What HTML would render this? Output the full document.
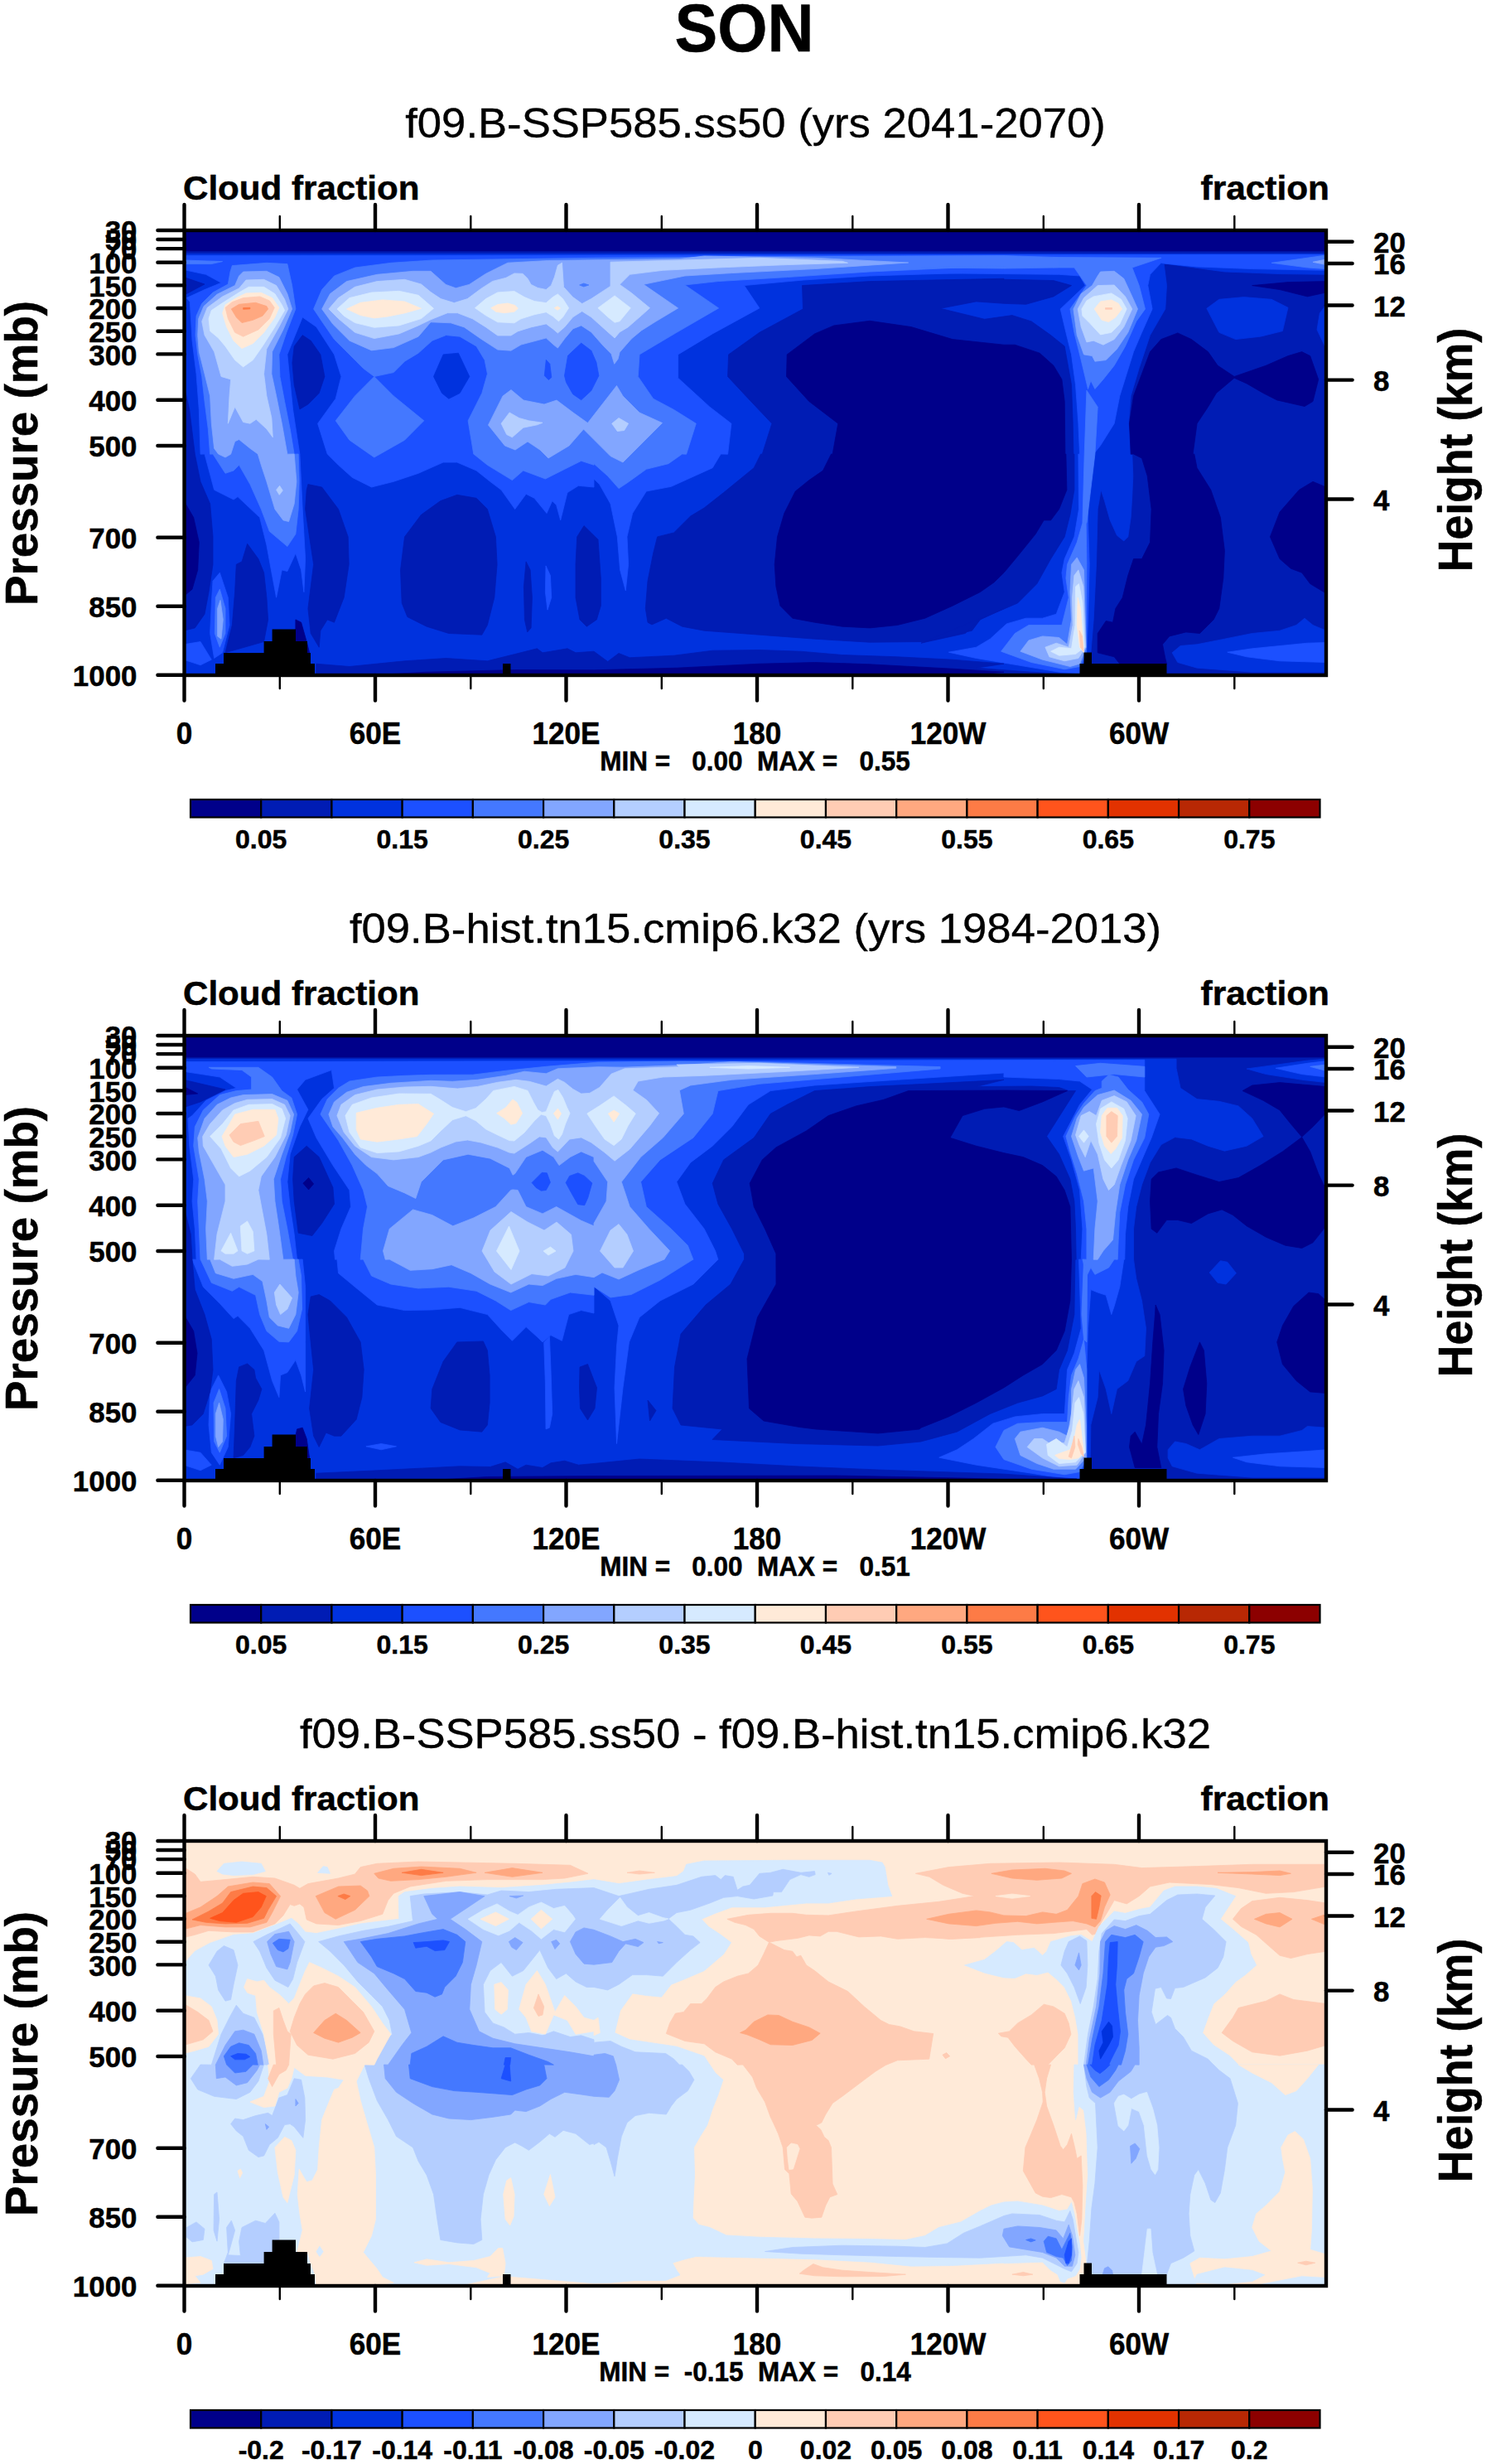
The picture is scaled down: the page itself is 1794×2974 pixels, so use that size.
<!DOCTYPE html>
<html><head><meta charset="utf-8"><title>SON</title>
<style>html,body{margin:0;padding:0;background:#fff}svg{display:block}text{font-family:"Liberation Sans",Arial,Helvetica,sans-serif;fill:#000}text{stroke:#000;stroke-width:0.35px}text[font-weight=bold]{stroke-width:0.5px}</style>
</head><body>
<svg width="1794" height="2974" viewBox="0 0 1794 2974">
<rect width="1794" height="2974" fill="#fff"/>
<text transform="translate(898.5 62.0) scale(0.946 1)" font-size="82" text-anchor="middle" font-weight="bold">SON</text>
<g transform="translate(0 0)">
<text transform="translate(912.0 166.0) scale(1.053 1)" font-size="50" text-anchor="middle">f09.B-SSP585.ss50 (yrs 2041-2070)</text>
<text transform="translate(221.0 241.0) scale(1.053 1)" font-size="40" text-anchor="start" font-weight="bold">Cloud fraction</text>
<text transform="translate(1605.0 241.0) scale(1.06 1)" font-size="40" text-anchor="end" font-weight="bold">fraction</text>
<clipPath id="clip0"><rect x="222.5" y="278.0" width="1378.5" height="537.0"/></clipPath>
<g clip-path="url(#clip0)">
<rect x="222.5" y="278.0" width="1378.5" height="537.0" fill="#001cb4"/>
<path d="M222.0 306.3L1601.0 306.3L1601.0 331.3L1545.0 330.6L1478.4 328.0L1405.1 318.0L1408.5 344.6L1406.8 372.9L1388.5 404.6L1375.2 444.6L1365.2 477.9L1362.5 511.2L1366.8 548.2L1367.8 574.6L1366.8 598.0L1365.2 624.6L1361.8 647.9L1356.8 652.9L1348.5 646.3L1340.2 627.9L1333.5 604.6L1329.2 591.3L1325.2 614.6L1323.5 681.2L1320.2 747.9L1316.9 787.8L1316.9 814.5L222.0 814.5Z" fill="#0032de" stroke="#0032de" stroke-width="0.8" stroke-linejoin="round"/>
<path d="M1456.8 372.3L1471.8 361.3L1501.7 358.6L1535.1 361.3L1555.0 371.3L1548.4 399.6L1521.7 406.2L1491.7 409.6L1471.8 401.3Z" fill="#0032de" stroke="#0032de" stroke-width="0.8" stroke-linejoin="round"/>
<path d="M1601.0 367.9L1593.3 377.9L1590.0 397.9L1601.0 421.2Z" fill="#0032de" stroke="#0032de" stroke-width="0.8" stroke-linejoin="round"/>
<path d="M1415.1 787.8L1425.1 779.5L1445.1 777.8L1478.4 771.2L1511.7 764.5L1545.0 761.2L1565.0 754.5L1575.0 746.2L1585.0 754.5L1601.0 761.2L1601.0 811.2L1511.7 811.2L1445.1 806.2L1421.8 799.5Z" fill="#0032de" stroke="#0032de" stroke-width="0.8" stroke-linejoin="round"/>
<path d="M222.0 308.6L1601.0 307.3L1601.0 326.3L1511.7 324.6L1445.1 322.0L1405.1 318.0L1401.8 317.3L1388.5 331.3L1385.8 344.6L1391.1 372.9L1378.5 401.3L1368.5 424.6L1360.2 451.2L1351.8 477.9L1345.2 511.2L1328.5 537.8L1320.2 548.2L1313.5 548.0L1313.5 631.3L1315.2 681.2L1313.5 747.9L1311.9 787.8L1303.5 812.8L1278.6 811.2L1228.6 802.8L1178.6 794.5L1145.3 787.2L1178.6 781.2L1195.3 771.2L1215.3 752.9L1238.6 746.2L1258.6 746.2L1275.2 741.2L1285.2 714.6L1281.9 691.2L1285.2 674.6L1296.9 647.9L1302.5 614.6L1301.9 548.0L1303.5 548.2L1301.9 511.2L1298.5 464.5L1293.5 427.9L1286.9 401.3L1280.2 372.9L1310.2 344.6L1303.5 333.0L1278.6 331.3L1211.9 330.6L1112.0 329.6L1212.0 328.0L1050.1 333.0L970.2 338.0L898.5 344.6L916.9 371.9L860.2 402.9L818.6 427.9L818.6 456.2L856.9 491.2L882.9 511.2L878.6 548.2L870.2 548.0L860.2 564.7L810.3 587.3L780.3 593.0L763.6 619.6L757.0 647.9L758.6 681.2L755.3 712.9L748.6 687.9L745.3 647.9L737.0 608.0L723.7 584.6L717.0 578.0L717.0 588.0L698.3 586.3L685.0 594.6L676.7 627.9L671.7 609.6L666.7 604.6L660.0 619.6L645.1 601.3L635.1 596.3L621.7 614.6L605.1 591.3L591.8 581.3L575.1 568.0L551.8 558.0L535.1 558.0L505.1 571.3L475.2 581.3L448.5 588.0L425.2 576.3L408.5 561.3L395.2 548.0L383.6 511.2L405.2 481.2L411.9 454.5L403.5 427.9L381.9 394.6L365.2 382.9L346.9 427.9L353.6 494.5L361.9 548.2L361.9 548.0L365.2 614.6L368.6 674.6L366.9 714.6L363.6 687.9L356.9 667.9L346.9 689.6L340.3 687.9L333.6 721.2L328.6 694.6L321.9 657.9L313.6 624.6L287.0 599.6L282.0 603.0L258.6 591.3L247.0 548.0L242.0 548.2L240.3 494.5L237.0 451.2L232.0 411.2L229.3 364.6L225.3 359.6L247.0 349.6L267.0 341.3L248.6 331.3L225.3 326.3L222.0 326.3Z" fill="#1c50ff" stroke="#1c50ff" stroke-width="0.8" stroke-linejoin="round"/>
<path d="M1481.8 787.2L1511.7 782.8L1545.0 779.5L1578.4 776.2L1601.0 775.5L1601.0 799.5L1545.0 797.8L1505.1 792.8Z" fill="#1c50ff" stroke="#1c50ff" stroke-width="0.8" stroke-linejoin="round"/>
<path d="M257.0 701.2L265.3 691.2L275.3 721.2L277.0 754.5L268.6 787.8L258.6 794.5L253.6 764.5L255.3 727.9Z" fill="#1c50ff" stroke="#1c50ff" stroke-width="0.8" stroke-linejoin="round"/>
<path d="M659.0 682.9L664.4 694.6L665.7 721.2L661.0 736.2L658.4 714.6Z" fill="#1c50ff" stroke="#1c50ff" stroke-width="0.8" stroke-linejoin="round"/>
<path d="M222.0 777.8L242.0 774.5L255.3 796.2L242.0 802.8L222.0 796.2Z" fill="#1c50ff" stroke="#1c50ff" stroke-width="0.8" stroke-linejoin="round"/>
<path d="M280.3 320.6L321.9 317.3L346.9 318.6L352.6 344.6L356.9 372.9L345.9 401.3L336.9 427.9L337.9 454.5L343.6 484.5L350.2 517.8L355.2 548.2L360.2 548.0L361.2 581.3L360.2 614.6L356.9 644.6L346.9 659.6L325.3 641.3L315.3 614.6L301.9 584.6L288.6 561.3L282.0 568.0L272.0 571.3L257.0 548.0L253.6 548.2L251.3 517.8L247.0 484.5L243.7 454.5L238.7 427.9L236.0 404.6L237.0 381.3L243.7 366.3L257.0 353.0L275.3 343.0L278.0 328.0Z" fill="#4478ff" stroke="#4478ff" stroke-width="0.8" stroke-linejoin="round"/>
<path d="M378.6 372.9L388.6 349.6L403.5 333.0L428.5 323.0L471.8 317.3L521.8 314.0L717.0 311.3L950.2 309.6L1212.0 308.6L1278.6 310.6L1278.6 323.0L1211.9 324.0L1112.0 323.0L1212.0 320.6L1050.1 328.0L950.2 334.6L866.9 339.6L826.9 344.0L867.6 371.9L816.9 401.3L772.0 427.9L770.3 454.5L788.6 481.2L813.6 494.5L840.3 511.2L831.9 537.8L828.6 548.2L823.6 548.0L806.9 559.7L780.3 566.3L757.0 583.0L747.0 589.6L733.7 574.6L717.0 559.7L717.0 561.3L701.7 556.3L681.7 566.3L658.4 578.0L631.7 568.0L618.4 579.6L588.4 561.3L571.8 548.0L571.8 548.2L565.1 507.8L581.8 474.5L588.4 451.2L585.1 434.6L575.1 417.9L555.1 406.2L538.5 404.6L521.8 411.2L505.1 426.2L488.5 436.2L475.2 449.6L451.8 454.5L438.5 444.6L421.9 427.9L403.5 409.6L388.6 387.9Z" fill="#4478ff" stroke="#4478ff" stroke-width="0.8" stroke-linejoin="round"/>
<path d="M405.2 507.8L428.5 477.9L451.8 454.5L475.2 477.9L511.8 507.8L488.5 531.2L451.8 552.0L421.9 531.2Z" fill="#4478ff" stroke="#4478ff" stroke-width="0.8" stroke-linejoin="round"/>
<path d="M1278.6 310.6L1401.8 311.3L1366.8 323.0L1375.2 344.6L1382.5 372.9L1371.8 387.9L1358.5 417.9L1345.2 441.2L1331.9 457.9L1321.9 469.5L1316.9 459.5L1313.5 469.5L1305.2 434.6L1296.9 401.3L1291.9 372.9L1311.9 344.6L1296.9 323.0L1278.6 323.0Z" fill="#4478ff" stroke="#4478ff" stroke-width="0.8" stroke-linejoin="round"/>
<path d="M1306.9 631.3L1300.2 654.6L1288.5 681.2L1286.9 697.9L1290.2 721.2L1281.9 754.5L1265.2 754.5L1241.9 754.5L1225.3 764.5L1208.6 786.2L1245.2 799.5L1285.2 807.8L1303.5 804.5L1311.2 787.8L1311.9 681.2L1311.2 631.3Z" fill="#4478ff" stroke="#4478ff" stroke-width="0.8" stroke-linejoin="round"/>
<path d="M1311.9 471.2L1325.2 491.2L1321.9 548.2L1311.9 631.3L1306.9 631.3L1309.2 548.0Z" fill="#4478ff" stroke="#4478ff" stroke-width="0.8" stroke-linejoin="round"/>
<path d="M1535.1 317.3L1601.0 308.0L1601.0 324.6L1578.4 323.0Z" fill="#4478ff" stroke="#4478ff" stroke-width="0.8" stroke-linejoin="round"/>
<path d="M260.3 721.2L265.3 711.2L272.0 734.5L272.0 764.5L265.3 781.2L259.3 764.5Z" fill="#4478ff" stroke="#4478ff" stroke-width="0.8" stroke-linejoin="round"/>
<path d="M222.0 314.0L268.6 315.6L255.3 318.6L222.0 318.6Z" fill="#4478ff" stroke="#4478ff" stroke-width="0.8" stroke-linejoin="round"/>
<path d="M293.6 328.0L321.9 327.3L336.9 334.6L346.9 354.6L352.6 372.9L341.9 397.9L328.6 424.6L327.9 451.2L333.6 477.9L340.3 511.2L346.9 548.2L355.2 548.0L357.9 581.3L355.2 608.0L348.6 629.6L341.9 627.9L331.9 614.6L321.9 581.3L315.3 561.3L311.3 548.0L301.9 541.2L288.6 530.5L283.6 532.8L278.6 548.2L272.0 552.0L263.6 548.0L258.6 541.2L255.3 511.2L253.6 477.9L247.0 451.2L240.3 424.6L238.7 404.6L239.7 384.6L246.0 369.6L262.0 355.3L283.6 344.6L288.6 333.0Z" fill="#82a6ff" stroke="#82a6ff" stroke-width="0.8" stroke-linejoin="round"/>
<path d="M388.6 372.9L398.5 354.6L418.5 339.6L455.2 331.3L498.5 327.3L520.0 327.3L538.2 343.4L550.3 347.8L566.4 343.4L586.6 330.3L612.9 317.2L661.3 314.5L737.0 313.5L820.0 312.5L850.2 309.0L983.5 311.3L1096.7 317.0L983.5 324.6L883.6 329.6L826.9 333.0L777.0 343.3L818.6 371.9L790.5 388.8L774.4 398.9L762.3 409.0L748.1 425.2L746.1 433.3L741.7 439.3L738.0 427.2L728.0 417.1L713.8 400.9L701.7 392.9L691.6 396.9L681.5 409.0L673.4 420.1L669.4 417.1L659.3 408.0L629.0 416.1L616.9 423.2L600.8 422.1L580.6 409.0L560.4 394.9L544.2 389.8L520.0 388.8L505.1 406.2L475.2 419.6L448.5 422.9L421.9 411.2L401.9 391.3Z" fill="#82a6ff" stroke="#82a6ff" stroke-width="0.8" stroke-linejoin="round"/>
<path d="M589.5 513.0L607.0 478.0L617.0 470.5L632.0 483.0L657.0 488.0L672.0 483.0L692.0 498.0L709.5 510.5L727.0 488.0L744.5 465.5L752.0 478.0L772.0 498.0L799.5 510.5L777.0 533.0L752.0 558.0L737.0 550.5L714.5 528.0L704.5 518.0L687.0 538.0L662.0 553.0L652.0 543.0L637.0 533.0L622.0 543.0L609.5 538.0Z" fill="#82a6ff" stroke="#82a6ff" stroke-width="0.8" stroke-linejoin="round"/>
<path d="M1328.5 328.0L1345.2 327.3L1356.8 336.3L1366.8 357.9L1373.5 372.9L1361.8 401.3L1348.5 421.2L1335.2 434.6L1321.9 436.2L1318.5 429.6L1308.5 427.9L1300.2 404.6L1295.9 372.9L1305.2 354.6L1318.5 344.6L1325.2 333.0Z" fill="#82a6ff" stroke="#82a6ff" stroke-width="0.8" stroke-linejoin="round"/>
<path d="M1293.5 681.2L1300.2 672.9L1308.5 687.9L1311.2 781.2L1303.5 801.2L1291.9 804.5L1271.9 799.5L1258.6 796.2L1231.9 786.2L1241.9 772.9L1258.6 767.9L1278.6 769.5L1288.5 777.8L1293.5 747.9L1291.9 714.6Z" fill="#82a6ff" stroke="#82a6ff" stroke-width="0.8" stroke-linejoin="round"/>
<path d="M262.6 734.5L266.0 724.5L269.3 747.9L267.0 771.2L262.6 767.9Z" fill="#82a6ff" stroke="#82a6ff" stroke-width="0.8" stroke-linejoin="round"/>
<path d="M1585.0 316.3L1601.0 313.0L1601.0 319.6Z" fill="#82a6ff" stroke="#82a6ff" stroke-width="0.8" stroke-linejoin="round"/>
<path d="M297.0 338.0L318.6 337.3L333.6 344.6L343.6 361.3L347.9 372.9L336.9 394.6L321.9 421.2L318.6 451.2L321.9 477.9L327.9 504.5L329.3 527.8L321.9 517.8L309.3 506.2L301.9 511.2L293.6 509.5L283.6 491.2L275.3 511.2L277.0 477.9L278.6 457.9L267.0 454.5L258.6 424.6L247.0 404.6L243.7 387.9L250.3 371.3L268.6 357.9L288.6 348.0Z" fill="#b4ceff" stroke="#b4ceff" stroke-width="0.8" stroke-linejoin="round"/>
<path d="M333.6 591.3L337.6 586.3L341.3 592.0L337.3 597.3Z" fill="#b4ceff" stroke="#b4ceff" stroke-width="0.8" stroke-linejoin="round"/>
<path d="M396.9 372.9L408.5 359.6L428.5 346.3L455.2 339.6L488.5 337.3L508.5 343.0L520.0 352.5L532.1 360.6L548.3 365.6L564.4 360.6L580.6 348.5L594.7 339.4L610.9 335.3L620.9 329.9L631.0 330.3L637.1 336.3L641.1 343.4L649.2 347.4L659.3 349.5L665.4 344.4L669.4 334.3L673.4 320.2L678.5 317.2L680.5 346.4L691.6 358.6L702.7 366.6L713.8 360.6L737.0 345.4L737.0 316.2L820.0 314.1L916.9 311.3L1016.8 315.3L1023.5 317.3L950.2 319.6L866.9 323.0L800.3 326.3L760.3 331.3L748.1 343.4L762.3 353.5L784.5 371.7L774.4 380.8L758.2 394.9L748.1 400.9L742.1 408.0L734.0 400.9L713.8 382.8L702.7 375.7L691.6 382.8L681.5 394.9L673.4 402.0L667.4 396.9L659.3 390.9L641.1 394.9L625.0 399.9L616.9 405.0L600.8 405.0L586.6 394.9L570.5 384.8L552.3 377.7L540.2 377.7L520.0 385.8L505.1 392.9L481.8 402.9L451.8 408.6L428.5 401.3L408.5 384.6Z" fill="#b4ceff" stroke="#b4ceff" stroke-width="0.8" stroke-linejoin="round"/>
<path d="M605.1 511.2L615.1 497.9L626.7 504.5L638.4 507.8L655.0 510.2L648.4 512.8L631.7 516.2L618.4 527.8L611.7 524.5Z" fill="#b4ceff" stroke="#b4ceff" stroke-width="0.8" stroke-linejoin="round"/>
<path d="M738.7 511.2L747.0 504.5L758.6 511.2L753.6 519.5L745.3 520.5Z" fill="#b4ceff" stroke="#b4ceff" stroke-width="0.8" stroke-linejoin="round"/>
<path d="M1325.2 344.6L1345.2 344.0L1358.5 357.9L1366.8 372.9L1356.8 394.6L1345.2 409.6L1331.9 416.2L1320.2 411.2L1311.9 412.9L1305.2 394.6L1301.2 372.9L1308.5 359.6Z" fill="#b4ceff" stroke="#b4ceff" stroke-width="0.8" stroke-linejoin="round"/>
<path d="M1296.9 694.6L1301.9 687.9L1307.9 707.9L1310.5 781.2L1301.9 794.5L1285.2 797.8L1266.9 792.8L1261.9 781.2L1275.2 776.2L1290.2 781.2L1295.2 754.5L1294.5 721.2Z" fill="#b4ceff" stroke="#b4ceff" stroke-width="0.8" stroke-linejoin="round"/>
<path d="M300.3 346.3L318.6 346.3L331.9 354.6L340.3 367.9L343.6 374.6L331.9 394.6L316.9 417.9L305.3 434.6L293.6 442.9L283.6 434.6L272.0 417.9L263.6 407.9L253.6 399.6L252.0 384.6L255.3 374.6L270.3 364.6L288.6 353.0Z" fill="#d6eaff" stroke="#d6eaff" stroke-width="0.8" stroke-linejoin="round"/>
<path d="M406.9 372.9L421.9 359.6L448.5 353.0L481.8 351.3L505.1 356.3L523.5 372.3L508.5 384.6L481.8 392.9L451.8 395.3L428.5 389.6L415.2 381.3Z" fill="#d6eaff" stroke="#d6eaff" stroke-width="0.8" stroke-linejoin="round"/>
<path d="M573.5 371.7L586.6 360.6L600.8 352.9L620.9 351.5L633.1 358.6L645.2 363.6L659.3 365.6L667.4 358.6L673.4 354.9L679.5 360.6L686.6 371.7L679.5 382.8L674.5 387.8L667.4 381.8L659.3 376.7L645.2 379.7L629.0 384.8L620.9 389.8L600.8 388.8L586.6 380.8Z" fill="#d6eaff" stroke="#d6eaff" stroke-width="0.8" stroke-linejoin="round"/>
<path d="M721.9 371.7L742.1 356.9L761.3 371.7L748.1 387.8L742.1 389.2L734.0 382.8Z" fill="#d6eaff" stroke="#d6eaff" stroke-width="0.8" stroke-linejoin="round"/>
<path d="M1320.2 357.9L1341.8 353.9L1353.5 361.3L1360.2 372.9L1351.8 391.3L1341.8 401.3L1328.5 403.9L1315.2 389.6L1306.9 381.3L1305.9 372.9L1311.9 362.9Z" fill="#d6eaff" stroke="#d6eaff" stroke-width="0.8" stroke-linejoin="round"/>
<path d="M1298.5 707.9L1302.5 704.6L1306.9 727.9L1309.2 781.2L1298.5 789.5L1278.6 791.2L1268.6 786.2L1278.6 781.2L1293.5 782.8L1297.9 754.5Z" fill="#d6eaff" stroke="#d6eaff" stroke-width="0.8" stroke-linejoin="round"/>
<path d="M297.0 353.9L315.3 353.3L328.6 359.6L336.9 371.3L331.9 382.9L318.6 401.3L305.3 414.6L292.0 420.6L282.0 411.2L273.6 394.6L268.6 377.9L272.0 367.9L285.3 359.6Z" fill="#ffead8" stroke="#ffead8" stroke-width="0.8" stroke-linejoin="round"/>
<path d="M418.5 372.9L435.2 365.3L461.8 361.9L488.5 363.9L508.5 372.3L488.5 377.9L468.5 381.9L451.8 383.9L435.2 380.6Z" fill="#ffead8" stroke="#ffead8" stroke-width="0.8" stroke-linejoin="round"/>
<path d="M592.7 371.7L600.8 367.6L612.9 366.0L622.0 368.6L625.4 372.3L620.9 376.3L608.8 377.7L598.7 376.3Z" fill="#ffead8" stroke="#ffead8" stroke-width="0.8" stroke-linejoin="round"/>
<path d="M669.4 371.7L673.0 369.7L676.5 372.1L673.0 374.3Z" fill="#ffead8" stroke="#ffead8" stroke-width="0.8" stroke-linejoin="round"/>
<path d="M1328.5 363.9L1341.8 361.9L1350.2 366.3L1354.5 372.9L1346.8 382.9L1338.5 388.6L1330.2 386.3L1321.2 372.9Z" fill="#ffead8" stroke="#ffead8" stroke-width="0.8" stroke-linejoin="round"/>
<path d="M1301.2 721.2L1304.5 734.5L1308.5 787.8L1303.5 781.2L1300.2 754.5Z" fill="#ffead8" stroke="#ffead8" stroke-width="0.8" stroke-linejoin="round"/>
<path d="M293.6 359.6L313.6 357.9L325.3 362.9L331.3 371.3L325.3 384.6L311.9 397.9L293.6 406.2L283.6 401.3L275.3 384.6L272.0 371.3L280.3 364.6Z" fill="#ffccb4" stroke="#ffccb4" stroke-width="0.8" stroke-linejoin="round"/>
<path d="M1303.2 761.2L1306.5 767.9L1307.9 786.2L1304.5 781.2Z" fill="#ffccb4" stroke="#ffccb4" stroke-width="0.8" stroke-linejoin="round"/>
<path d="M288.6 367.3L308.6 365.3L321.9 369.6L323.6 372.9L316.9 381.3L305.3 386.3L292.0 389.6L285.3 382.9L279.3 372.9Z" fill="#ffa880" stroke="#ffa880" stroke-width="0.8" stroke-linejoin="round"/>
<path d="M293.6 371.6L301.9 371.3L301.9 372.9L293.6 373.3Z" fill="#fd7b46" stroke="#fd7b46" stroke-width="0.8" stroke-linejoin="round"/>
<path d="M1334.5 371.6L1342.5 371.6L1342.5 373.3L1334.5 373.3Z" fill="#ffccb4" stroke="#ffccb4" stroke-width="0.8" stroke-linejoin="round"/>
<path d="M699.7 344.0L704.7 342.0L710.8 344.0L704.7 346.0Z" fill="#4478ff" stroke="#4478ff" stroke-width="0.8" stroke-linejoin="round"/>
<path d="M681.5 453.4L685.6 429.2L701.7 414.1L713.8 423.2L719.9 437.3L722.9 453.4L713.8 471.6L701.7 482.7L691.6 475.7L683.5 461.5Z" fill="#1c50ff" stroke="#1c50ff" stroke-width="0.8" stroke-linejoin="round"/>
<path d="M659.3 434.3L663.8 439.3L665.8 455.5L662.3 458.5L657.3 453.4Z" fill="#1c50ff" stroke="#1c50ff" stroke-width="0.8" stroke-linejoin="round"/>
<path d="M523.5 454.5L535.1 427.9L553.4 426.2L566.8 454.5L555.1 474.5L541.8 481.2L533.5 474.5Z" fill="#0032de" stroke="#0032de" stroke-width="0.8" stroke-linejoin="round"/>
<path d="M365.2 404.6L375.2 411.2L386.9 427.9L391.9 454.5L385.2 474.5L371.9 487.9L361.9 493.9L355.2 464.5L352.9 437.9L355.2 417.9Z" fill="#001cb4" stroke="#001cb4" stroke-width="0.8" stroke-linejoin="round"/>
<path d="M222.0 334.6L247.0 343.0L222.0 356.3Z" fill="#001cb4" stroke="#001cb4" stroke-width="0.8" stroke-linejoin="round"/>
<path d="M222.0 464.5L228.7 494.5L235.3 548.2L242.0 581.3L253.6 608.0L257.0 647.9L257.0 681.2L252.0 714.6L247.0 741.2L235.3 757.9L222.0 761.2Z" fill="#001cb4" stroke="#001cb4" stroke-width="0.8" stroke-linejoin="round"/>
<path d="M285.3 681.2L292.0 677.9L298.6 656.3L311.9 674.6L318.6 691.2L321.9 721.2L323.6 747.9L318.6 774.5L272.0 787.8L280.3 754.5L283.6 714.6Z" fill="#001cb4" stroke="#001cb4" stroke-width="0.8" stroke-linejoin="round"/>
<path d="M371.9 584.6L388.6 588.0L408.5 614.6L420.2 647.9L421.2 681.2L415.2 721.2L403.5 751.2L395.2 747.9L386.9 761.2L385.2 781.2L375.2 764.5L371.9 734.5L378.6 681.2L373.6 647.9L368.6 614.6L370.2 591.3Z" fill="#001cb4" stroke="#001cb4" stroke-width="0.8" stroke-linejoin="round"/>
<path d="M488.5 647.9L508.5 621.3L531.8 604.6L551.8 597.3L575.1 601.3L588.4 614.6L598.4 647.9L600.1 681.2L596.8 721.2L588.4 754.5L581.8 766.2L541.8 764.5L515.1 756.2L491.8 744.5L485.2 727.9L483.5 687.9Z" fill="#001cb4" stroke="#001cb4" stroke-width="0.8" stroke-linejoin="round"/>
<path d="M705.0 634.6L722.0 651.3L725.3 697.9L725.3 731.2L720.3 747.9L708.3 756.2L700.0 747.9L695.0 721.2L695.0 681.2L696.7 647.9Z" fill="#001cb4" stroke="#001cb4" stroke-width="0.8" stroke-linejoin="round"/>
<path d="M635.1 677.9L640.1 687.9L642.4 721.2L641.1 757.9L636.7 762.9L633.4 747.9L632.4 707.9Z" fill="#001cb4" stroke="#001cb4" stroke-width="0.8" stroke-linejoin="round"/>
<path d="M968.5 344.6L1050.1 339.6L1212.0 336.3L1211.9 337.3L1271.9 338.6L1293.5 344.6L1271.9 357.9L1238.6 367.3L1211.9 366.3L1178.6 363.9L1135.3 372.3L1188.6 385.3L1221.9 380.6L1245.2 387.9L1268.6 404.6L1285.2 417.9L1293.5 464.5L1295.2 511.2L1295.9 548.2L1296.9 548.0L1296.9 591.3L1291.9 621.3L1285.2 647.9L1268.6 674.6L1251.9 704.6L1228.6 727.9L1205.3 737.9L1182.0 747.9L1165.3 764.5L1112.0 776.2L1212.0 734.5L1183.4 747.9L1173.4 761.2L1116.7 774.5L1050.1 775.2L983.5 771.2L916.9 766.2L850.2 761.2L823.6 756.2L804.3 746.2L787.0 753.9L782.0 751.2L779.3 734.5L782.0 701.2L788.6 667.9L793.6 647.9L813.6 642.9L833.6 623.0L850.2 613.0L873.6 594.6L910.2 564.7L918.5 548.0L920.2 548.2L931.9 511.2L903.5 481.2L878.6 454.5L879.6 427.9L916.9 401.3L969.5 372.9Z" fill="#001cb4" stroke="#001cb4" stroke-width="0.8" stroke-linejoin="round"/>
<path d="M381.9 801.2L421.9 804.5L488.5 797.8L538.5 794.5L588.4 797.8L608.4 792.8L621.7 789.5L648.4 782.8L655.0 787.8L665.0 786.2L685.0 782.8L695.0 787.8L717.0 786.2L733.7 798.5L747.0 788.5L760.3 793.8L813.6 791.2L860.2 785.2L916.9 784.5L966.8 786.2L1016.8 790.5L1083.4 792.8L1150.0 796.2L1212.0 801.2L1178.6 806.2L1245.2 811.2L1303.5 814.5L381.9 814.5Z" fill="#001cb4" stroke="#001cb4" stroke-width="0.8" stroke-linejoin="round"/>
<path d="M455.2 814.5L515.1 811.2L621.7 808.5L717.0 808.8L816.9 806.2L916.9 801.2L983.5 799.5L1050.1 801.8L1150.0 807.2L1212.0 811.2L1178.6 814.5Z" fill="#00008a" stroke="#00008a" stroke-width="0.8" stroke-linejoin="round"/>
<path d="M1285.9 548.2L1285.2 484.5L1281.9 457.9L1271.9 441.2L1255.2 426.2L1225.3 416.2L1212.0 416.2L1150.0 409.6L1100.1 394.6L1050.1 387.3L1006.8 392.9L983.5 402.9L950.2 427.9L949.5 454.5L976.8 484.5L1011.8 511.2L1005.1 548.2L1003.5 548.0L993.5 568.0L976.8 579.6L960.2 593.0L946.8 619.6L938.5 647.9L935.2 681.2L936.9 707.9L941.9 731.2L956.8 746.2L983.5 751.2L1016.8 756.2L1050.1 757.9L1083.4 754.5L1116.7 746.2L1150.0 731.2L1183.4 714.6L1200.0 702.9L1212.0 691.2L1228.6 671.3L1250.2 644.6L1260.2 627.9L1268.6 627.9L1278.6 614.6L1287.9 591.3L1286.9 548.0Z" fill="#00008a" stroke="#00008a" stroke-width="0.8" stroke-linejoin="round"/>
<path d="M1365.2 548.2L1363.5 511.2L1368.5 477.9L1378.5 451.2L1388.5 424.6L1401.8 409.6L1421.8 401.9L1438.4 409.6L1458.4 424.6L1470.1 441.2L1490.1 454.5L1528.4 441.2L1555.0 429.6L1571.7 424.6L1581.7 429.6L1591.7 457.9L1585.0 484.5L1575.0 490.5L1541.7 482.9L1525.1 474.5L1505.1 462.9L1490.1 456.2L1468.4 474.5L1458.4 491.2L1445.1 511.2L1440.1 548.2L1441.8 548.0L1445.1 564.7L1461.8 591.3L1473.4 624.6L1478.4 664.6L1476.8 697.9L1471.8 734.5L1465.1 747.9L1448.4 764.5L1431.8 762.9L1411.8 767.9L1403.5 777.8L1406.8 794.5L1408.5 801.2L1351.8 801.2L1345.2 792.8L1325.2 787.8L1325.2 764.5L1335.2 749.5L1343.5 751.2L1346.8 734.5L1355.2 721.2L1361.8 694.6L1368.5 674.6L1378.5 674.6L1388.5 654.6L1390.1 614.6L1385.2 574.6L1378.5 553.0L1368.5 548.0Z" fill="#00008a" stroke="#00008a" stroke-width="0.8" stroke-linejoin="round"/>
<path d="M1601.0 588.0L1585.0 581.3L1568.4 591.3L1545.0 618.0L1533.4 647.9L1545.0 674.6L1558.4 686.2L1571.7 691.2L1581.7 704.6L1601.0 716.2Z" fill="#00008a" stroke="#00008a" stroke-width="0.8" stroke-linejoin="round"/>
<path d="M1511.7 344.6L1555.0 340.6L1601.0 339.6L1601.0 353.0L1578.4 357.9L1545.0 349.6Z" fill="#00008a" stroke="#00008a" stroke-width="0.8" stroke-linejoin="round"/>
<path d="M222.0 604.6L233.7 624.6L240.3 654.6L238.7 687.9L232.0 711.2L222.0 719.6Z" fill="#00008a" stroke="#00008a" stroke-width="0.8" stroke-linejoin="round"/>
<path d="M356.9 747.9L363.6 751.2L370.2 774.5L373.6 787.8L356.9 787.8Z" fill="#00008a" stroke="#00008a" stroke-width="0.8" stroke-linejoin="round"/>
<path d="M222.0 278.0L1601.0 278.0L1601.0 303.0L222.0 303.0Z" fill="#00008a" stroke="#00008a" stroke-width="0.8" stroke-linejoin="round"/>
</g>
<rect x="260" y="801" width="120.0" height="15.0" fill="#000"/><rect x="270" y="788" width="105.0" height="14.0" fill="#000"/><rect x="318.6" y="774" width="52.4" height="15.0" fill="#000"/><rect x="328.6" y="759.5" width="28.4" height="15.5" fill="#000"/><rect x="607" y="801" width="9.5" height="15.0" fill="#000"/><rect x="1303.5" y="801" width="105.0" height="15.0" fill="#000"/><rect x="1308.5" y="787.5" width="9.5" height="14.5" fill="#000"/>
<rect x="222.5" y="278.0" width="1378.5" height="537.0" fill="none" stroke="#000" stroke-width="4.4"/>
<text transform="translate(165.5 291.2) scale(0.97 1)" font-size="36" text-anchor="end" font-weight="bold">30</text>
<text transform="translate(165.5 302.2) scale(0.97 1)" font-size="36" text-anchor="end" font-weight="bold">50</text>
<text transform="translate(165.5 313.3) scale(0.97 1)" font-size="36" text-anchor="end" font-weight="bold">70</text>
<text transform="translate(165.5 329.9) scale(0.97 1)" font-size="36" text-anchor="end" font-weight="bold">100</text>
<text transform="translate(165.5 357.6) scale(0.97 1)" font-size="36" text-anchor="end" font-weight="bold">150</text>
<text transform="translate(165.5 385.2) scale(0.97 1)" font-size="36" text-anchor="end" font-weight="bold">200</text>
<text transform="translate(165.5 412.9) scale(0.97 1)" font-size="36" text-anchor="end" font-weight="bold">250</text>
<text transform="translate(165.5 440.6) scale(0.97 1)" font-size="36" text-anchor="end" font-weight="bold">300</text>
<text transform="translate(165.5 495.9) scale(0.97 1)" font-size="36" text-anchor="end" font-weight="bold">400</text>
<text transform="translate(165.5 551.2) scale(0.97 1)" font-size="36" text-anchor="end" font-weight="bold">500</text>
<text transform="translate(165.5 661.9) scale(0.97 1)" font-size="36" text-anchor="end" font-weight="bold">700</text>
<text transform="translate(165.5 744.9) scale(0.97 1)" font-size="36" text-anchor="end" font-weight="bold">850</text>
<text transform="translate(165.5 827.9) scale(0.97 1)" font-size="36" text-anchor="end" font-weight="bold">1000</text>
<text transform="translate(1658.0 304.9) scale(0.97 1)" font-size="36" text-anchor="start" font-weight="bold">20</text>
<text transform="translate(1658.0 331.2) scale(0.97 1)" font-size="36" text-anchor="start" font-weight="bold">16</text>
<text transform="translate(1658.0 381.7) scale(0.97 1)" font-size="36" text-anchor="start" font-weight="bold">12</text>
<text transform="translate(1658.0 471.8) scale(0.97 1)" font-size="36" text-anchor="start" font-weight="bold">8</text>
<text transform="translate(1658.0 615.7) scale(0.97 1)" font-size="36" text-anchor="start" font-weight="bold">4</text>
<g stroke="#000" stroke-linecap="round" fill="none"><path d="M222.5 278.0 V247 M222.5 815.0 V845.5" stroke-width="4.4"/><path d="M337.8 278.0 V261 M337.8 815.0 V831" stroke-width="2.4"/><path d="M453.0 278.0 V247 M453.0 815.0 V845.5" stroke-width="4.4"/><path d="M568.3 278.0 V261 M568.3 815.0 V831" stroke-width="2.4"/><path d="M683.5 278.0 V247 M683.5 815.0 V845.5" stroke-width="4.4"/><path d="M798.8 278.0 V261 M798.8 815.0 V831" stroke-width="2.4"/><path d="M914.0 278.0 V247 M914.0 815.0 V845.5" stroke-width="4.4"/><path d="M1029.3 278.0 V261 M1029.3 815.0 V831" stroke-width="2.4"/><path d="M1144.5 278.0 V247 M1144.5 815.0 V845.5" stroke-width="4.4"/><path d="M1259.8 278.0 V261 M1259.8 815.0 V831" stroke-width="2.4"/><path d="M1375.0 278.0 V247 M1375.0 815.0 V845.5" stroke-width="4.4"/><path d="M1490.3 278.0 V261 M1490.3 815.0 V831" stroke-width="2.4"/><path d="M190.4 278.0 H222.5" stroke-width="4.4"/><path d="M190.4 289.0 H222.5" stroke-width="4.4"/><path d="M190.4 300.1 H222.5" stroke-width="4.4"/><path d="M190.4 316.7 H222.5" stroke-width="4.4"/><path d="M190.4 344.4 H222.5" stroke-width="4.4"/><path d="M190.4 372.0 H222.5" stroke-width="4.4"/><path d="M190.4 399.7 H222.5" stroke-width="4.4"/><path d="M190.4 427.4 H222.5" stroke-width="4.4"/><path d="M190.4 482.7 H222.5" stroke-width="4.4"/><path d="M190.4 538.0 H222.5" stroke-width="4.4"/><path d="M190.4 648.7 H222.5" stroke-width="4.4"/><path d="M190.4 731.7 H222.5" stroke-width="4.4"/><path d="M190.4 814.7 H222.5" stroke-width="4.4"/><path d="M1601.0 291.7 H1632.6" stroke-width="4.4"/><path d="M1601.0 318.0 H1632.6" stroke-width="4.4"/><path d="M1601.0 368.5 H1632.6" stroke-width="4.4"/><path d="M1601.0 458.6 H1632.6" stroke-width="4.4"/><path d="M1601.0 602.5 H1632.6" stroke-width="4.4"/></g>
<text transform="translate(222.5 898.3) scale(0.975 1)" font-size="36" text-anchor="middle" font-weight="bold">0</text>
<text transform="translate(453.0 898.3) scale(0.975 1)" font-size="36" text-anchor="middle" font-weight="bold">60E</text>
<text transform="translate(683.5 898.3) scale(0.975 1)" font-size="36" text-anchor="middle" font-weight="bold">120E</text>
<text transform="translate(914.0 898.3) scale(0.975 1)" font-size="36" text-anchor="middle" font-weight="bold">180</text>
<text transform="translate(1144.5 898.3) scale(0.975 1)" font-size="36" text-anchor="middle" font-weight="bold">120W</text>
<text transform="translate(1375.0 898.3) scale(0.975 1)" font-size="36" text-anchor="middle" font-weight="bold">60W</text>
<text transform="translate(44.7 547.0) rotate(-90) scale(0.978 1)" font-size="56" text-anchor="middle" font-weight="bold">Pressure (mb)</text>
<text transform="translate(1777.0 543.0) rotate(-90) scale(0.94 1)" font-size="57" text-anchor="middle" font-weight="bold">Height (km)</text>
<text transform="translate(911.5 930.0) scale(0.955 1)" font-size="33" text-anchor="middle" font-weight="bold" xml:space="preserve">MIN =   0.00  MAX =   0.55</text>
<rect x="230.00" y="965" width="85.22" height="21.5" fill="#00008a" stroke="#000" stroke-width="2.2"/>
<rect x="315.22" y="965" width="85.22" height="21.5" fill="#001cb4" stroke="#000" stroke-width="2.2"/>
<rect x="400.44" y="965" width="85.22" height="21.5" fill="#0032de" stroke="#000" stroke-width="2.2"/>
<rect x="485.66" y="965" width="85.22" height="21.5" fill="#1c50ff" stroke="#000" stroke-width="2.2"/>
<rect x="570.88" y="965" width="85.22" height="21.5" fill="#4478ff" stroke="#000" stroke-width="2.2"/>
<rect x="656.09" y="965" width="85.22" height="21.5" fill="#82a6ff" stroke="#000" stroke-width="2.2"/>
<rect x="741.31" y="965" width="85.22" height="21.5" fill="#b4ceff" stroke="#000" stroke-width="2.2"/>
<rect x="826.53" y="965" width="85.22" height="21.5" fill="#d6eaff" stroke="#000" stroke-width="2.2"/>
<rect x="911.75" y="965" width="85.22" height="21.5" fill="#ffead8" stroke="#000" stroke-width="2.2"/>
<rect x="996.97" y="965" width="85.22" height="21.5" fill="#ffccb4" stroke="#000" stroke-width="2.2"/>
<rect x="1082.19" y="965" width="85.22" height="21.5" fill="#ffa880" stroke="#000" stroke-width="2.2"/>
<rect x="1167.41" y="965" width="85.22" height="21.5" fill="#fd7b46" stroke="#000" stroke-width="2.2"/>
<rect x="1252.62" y="965" width="85.22" height="21.5" fill="#ff541c" stroke="#000" stroke-width="2.2"/>
<rect x="1337.84" y="965" width="85.22" height="21.5" fill="#e23200" stroke="#000" stroke-width="2.2"/>
<rect x="1423.06" y="965" width="85.22" height="21.5" fill="#b82804" stroke="#000" stroke-width="2.2"/>
<rect x="1508.28" y="965" width="85.22" height="21.5" fill="#8c0000" stroke="#000" stroke-width="2.2"/>
<text transform="translate(315.2 1023.5)" font-size="32" text-anchor="middle" font-weight="bold">0.05</text>
<text transform="translate(400.4 1023.5)" font-size="32" text-anchor="middle" font-weight="bold"></text>
<text transform="translate(485.7 1023.5)" font-size="32" text-anchor="middle" font-weight="bold">0.15</text>
<text transform="translate(570.9 1023.5)" font-size="32" text-anchor="middle" font-weight="bold"></text>
<text transform="translate(656.1 1023.5)" font-size="32" text-anchor="middle" font-weight="bold">0.25</text>
<text transform="translate(741.3 1023.5)" font-size="32" text-anchor="middle" font-weight="bold"></text>
<text transform="translate(826.5 1023.5)" font-size="32" text-anchor="middle" font-weight="bold">0.35</text>
<text transform="translate(911.8 1023.5)" font-size="32" text-anchor="middle" font-weight="bold"></text>
<text transform="translate(997.0 1023.5)" font-size="32" text-anchor="middle" font-weight="bold">0.45</text>
<text transform="translate(1082.2 1023.5)" font-size="32" text-anchor="middle" font-weight="bold"></text>
<text transform="translate(1167.4 1023.5)" font-size="32" text-anchor="middle" font-weight="bold">0.55</text>
<text transform="translate(1252.6 1023.5)" font-size="32" text-anchor="middle" font-weight="bold"></text>
<text transform="translate(1337.8 1023.5)" font-size="32" text-anchor="middle" font-weight="bold">0.65</text>
<text transform="translate(1423.1 1023.5)" font-size="32" text-anchor="middle" font-weight="bold"></text>
<text transform="translate(1508.3 1023.5)" font-size="32" text-anchor="middle" font-weight="bold">0.75</text>
</g>
<g transform="translate(0 972)">
<text transform="translate(912.0 166.0) scale(1.053 1)" font-size="50" text-anchor="middle">f09.B-hist.tn15.cmip6.k32 (yrs 1984-2013)</text>
<text transform="translate(221.0 241.0) scale(1.053 1)" font-size="40" text-anchor="start" font-weight="bold">Cloud fraction</text>
<text transform="translate(1605.0 241.0) scale(1.06 1)" font-size="40" text-anchor="end" font-weight="bold">fraction</text>
<clipPath id="clip972"><rect x="222.5" y="278.0" width="1378.5" height="537.0"/></clipPath>
<g clip-path="url(#clip972)">
<rect x="222.5" y="278.0" width="1378.5" height="537.0" fill="#001cb4"/>
<path d="M222.0 306.3L1420.1 306.3L1420.1 317.3L1425.1 341.3L1445.1 354.6L1471.8 357.3L1495.1 362.9L1511.7 377.9L1525.1 399.6L1505.1 411.2L1478.4 417.2L1458.4 411.2L1438.4 402.9L1418.5 400.6L1401.8 409.6L1388.5 431.2L1378.5 457.9L1371.8 484.5L1368.5 511.2L1368.5 548.2L1368.5 548.0L1371.8 571.3L1378.5 598.0L1383.5 631.3L1381.8 664.6L1371.8 671.3L1361.8 694.6L1348.5 704.6L1341.8 734.5L1335.2 704.6L1326.9 681.2L1325.2 714.6L1320.2 734.5L1316.9 747.9L1315.9 814.5L222.0 814.5Z" fill="#0032de" stroke="#0032de" stroke-width="0.8" stroke-linejoin="round"/>
<path d="M1505.1 318.0L1578.4 308.0L1601.0 306.3L1601.0 334.6L1571.7 331.3L1528.4 324.6Z" fill="#0032de" stroke="#0032de" stroke-width="0.8" stroke-linejoin="round"/>
<path d="M1460.1 564.0L1473.4 549.7L1481.8 551.3L1492.4 564.7L1480.1 578.0L1470.1 576.3Z" fill="#0032de" stroke="#0032de" stroke-width="0.8" stroke-linejoin="round"/>
<path d="M1410.1 777.8L1418.5 767.9L1431.8 770.5L1448.4 777.8L1471.8 764.5L1511.7 761.2L1545.0 761.2L1571.7 754.5L1578.4 749.5L1601.0 751.2L1601.0 811.2L1511.7 811.2L1445.1 806.2L1415.1 797.8L1410.1 787.8Z" fill="#0032de" stroke="#0032de" stroke-width="0.8" stroke-linejoin="round"/>
<path d="M222.0 309.6L1381.8 307.3L1381.8 344.6L1400.1 372.9L1390.1 401.3L1378.5 427.9L1368.5 451.2L1361.8 484.5L1358.5 517.8L1357.8 548.2L1356.8 548.0L1351.8 581.3L1345.2 604.6L1341.8 614.6L1335.2 591.3L1325.2 588.0L1316.9 584.6L1313.5 631.3L1311.9 681.2L1311.9 787.8L1303.5 812.8L1285.2 812.8L1245.2 806.2L1178.6 796.2L1133.7 787.2L1155.3 777.8L1175.3 764.5L1198.6 746.2L1225.3 737.9L1258.6 734.5L1285.2 734.5L1286.9 707.9L1288.5 681.2L1296.9 661.3L1305.2 631.3L1302.5 548.0L1305.2 548.2L1306.9 511.2L1303.5 464.5L1293.5 427.9L1283.6 399.6L1303.5 361.3L1318.5 343.0L1303.5 333.0L1278.6 330.6L1211.9 328.0L1212.0 323.0L1083.4 331.3L983.5 338.0L930.2 344.6L903.5 361.3L883.6 387.9L860.2 411.2L833.6 431.2L816.9 454.5L826.9 481.2L850.2 511.2L863.6 537.8L866.9 548.2L867.0 548.0L837.0 578.0L797.0 598.0L772.0 618.0L759.5 648.0L752.0 703.0L744.5 770.5L742.0 703.0L744.5 653.0L747.0 628.0L737.0 598.0L717.0 580.5L717.0 613.0L701.7 609.6L686.7 614.6L678.4 646.3L665.0 639.6L655.0 647.9L650.0 642.9L635.1 629.6L618.4 646.3L605.1 632.9L588.4 614.6L555.1 606.3L521.8 609.0L488.5 609.6L455.2 603.0L428.5 581.3L408.5 564.7L406.9 548.0L404.5 548.2L403.5 537.8L411.9 511.2L423.5 484.5L421.9 464.5L401.9 434.6L381.9 401.3L371.9 377.9L388.6 354.6L403.5 341.3L400.2 319.6L368.6 331.3L358.6 343.0L371.9 367.3L361.9 387.9L350.2 421.2L346.9 454.5L350.2 484.5L355.2 517.8L358.6 548.2L365.2 548.0L368.6 581.3L368.6 647.9L368.6 707.9L363.6 687.9L356.9 669.6L346.9 684.6L338.6 687.9L336.9 714.6L328.6 694.6L318.6 657.9L301.9 631.3L287.0 616.3L282.0 619.6L265.3 601.3L245.3 581.3L232.0 548.0L237.0 548.2L235.3 511.2L232.0 477.9L233.7 451.2L228.7 411.2L227.0 377.9L232.0 374.6L248.6 356.3L272.0 344.6L285.3 341.3L265.3 328.0L222.0 321.3Z" fill="#1c50ff" stroke="#1c50ff" stroke-width="0.8" stroke-linejoin="round"/>
<path d="M1540.0 317.3L1578.4 311.3L1601.0 308.6L1601.0 328.0L1571.7 324.6Z" fill="#1c50ff" stroke="#1c50ff" stroke-width="0.8" stroke-linejoin="round"/>
<path d="M1488.4 787.2L1528.4 782.8L1578.4 779.5L1601.0 777.8L1601.0 799.5L1545.0 797.8L1505.1 792.8Z" fill="#1c50ff" stroke="#1c50ff" stroke-width="0.8" stroke-linejoin="round"/>
<path d="M253.6 707.9L263.6 687.9L273.6 707.9L278.6 734.5L275.3 774.5L265.3 796.2L255.3 781.2L252.0 747.9Z" fill="#1c50ff" stroke="#1c50ff" stroke-width="0.8" stroke-linejoin="round"/>
<path d="M656.7 647.9L663.4 641.3L665.0 681.2L666.7 734.5L663.4 751.2L659.0 752.9L658.4 697.9Z" fill="#1c50ff" stroke="#1c50ff" stroke-width="0.8" stroke-linejoin="round"/>
<path d="M441.9 773.8L460.2 770.5L478.5 773.8L460.2 777.8Z" fill="#1c50ff" stroke="#1c50ff" stroke-width="0.8" stroke-linejoin="round"/>
<path d="M222.0 777.8L242.0 781.2L255.3 796.2L242.0 802.8L222.0 796.2Z" fill="#1c50ff" stroke="#1c50ff" stroke-width="0.8" stroke-linejoin="round"/>
<path d="M252.0 316.3L311.9 316.3L328.6 328.0L340.3 344.6L351.9 353.0L358.6 372.9L353.6 397.9L345.3 424.6L338.6 451.2L340.3 477.9L346.9 511.2L353.6 548.2L360.2 548.0L363.6 568.0L364.6 608.0L358.6 634.6L348.6 647.9L336.9 647.3L321.9 634.6L313.6 614.6L308.6 591.3L288.6 581.3L280.3 586.3L255.3 576.3L242.0 548.0L242.0 548.2L240.3 511.2L238.7 477.9L240.3 451.2L233.7 411.2L235.3 387.9L245.3 367.9L265.3 349.6L285.3 344.6L303.6 343.0L303.6 328.0L292.0 319.6L255.3 318.0Z" fill="#4478ff" stroke="#4478ff" stroke-width="0.8" stroke-linejoin="round"/>
<path d="M386.9 372.9L395.2 354.6L408.5 341.3L421.9 333.0L455.2 328.0L488.5 326.3L520.1 325.3L570.5 325.2L610.9 320.2L661.3 315.1L721.9 310.1L820.0 309.1L916.9 309.6L1135.1 315.6L1135.1 318.0L1016.8 328.0L916.9 336.3L866.9 344.6L860.2 372.3L836.9 401.3L796.9 427.9L773.6 454.5L780.3 484.5L810.3 511.2L830.3 531.2L836.9 548.2L837.0 548.0L797.0 573.0L762.0 590.5L737.0 594.0L717.0 581.0L717.0 591.3L688.4 588.0L665.0 596.3L658.4 603.0L638.4 599.6L616.7 609.6L598.4 598.0L575.1 586.3L541.8 581.3L505.1 583.0L471.8 578.0L448.5 568.0L438.5 548.0L435.2 548.2L438.5 511.2L443.5 484.5L438.5 464.5L425.2 434.6L408.5 404.6Z" fill="#4478ff" stroke="#4478ff" stroke-width="0.8" stroke-linejoin="round"/>
<path d="M1298.5 314.6L1328.5 311.3L1381.8 315.3L1381.8 328.0L1345.2 324.6L1311.9 328.0Z" fill="#4478ff" stroke="#4478ff" stroke-width="0.8" stroke-linejoin="round"/>
<path d="M1330.2 333.0L1338.5 325.3L1350.2 328.0L1361.8 343.0L1378.5 357.9L1386.8 372.9L1381.8 401.3L1368.5 427.9L1358.5 457.9L1351.8 491.2L1350.2 524.5L1349.2 548.2L1345.2 548.0L1338.5 558.0L1321.9 566.3L1316.9 558.0L1311.9 568.0L1306.9 548.0L1311.9 548.2L1311.9 511.2L1308.5 477.9L1300.2 444.6L1291.9 417.9L1286.9 399.6L1298.5 374.6L1308.5 359.6L1321.9 344.6L1330.2 341.3Z" fill="#4478ff" stroke="#4478ff" stroke-width="0.8" stroke-linejoin="round"/>
<path d="M1308.5 644.6L1301.9 667.9L1293.5 687.9L1290.2 714.6L1288.5 744.5L1258.6 744.5L1228.6 746.2L1211.9 754.5L1201.9 774.5L1211.9 789.5L1245.2 801.2L1285.2 807.8L1303.5 804.5L1311.9 787.8L1311.9 681.2Z" fill="#4478ff" stroke="#4478ff" stroke-width="0.8" stroke-linejoin="round"/>
<path d="M1308.5 548.0L1312.5 568.0L1311.9 647.9L1308.5 644.6L1305.9 614.6Z" fill="#4478ff" stroke="#4478ff" stroke-width="0.8" stroke-linejoin="round"/>
<path d="M1581.7 315.3L1601.0 313.0L1601.0 320.6Z" fill="#4478ff" stroke="#4478ff" stroke-width="0.8" stroke-linejoin="round"/>
<path d="M258.0 721.2L264.6 704.6L272.0 727.9L273.6 761.2L265.3 781.2L258.6 767.9Z" fill="#4478ff" stroke="#4478ff" stroke-width="0.8" stroke-linejoin="round"/>
<path d="M293.6 349.6L328.6 348.6L346.9 356.3L354.6 372.9L350.2 394.6L340.3 421.2L330.3 451.2L331.9 477.9L336.9 511.2L341.9 548.2L355.2 548.0L356.9 568.0L360.2 588.0L356.9 614.6L348.6 631.3L335.3 627.9L325.3 618.0L321.9 598.0L316.9 574.6L305.3 566.3L282.0 571.3L260.3 564.7L253.6 548.0L250.3 548.2L248.6 511.2L250.3 477.9L247.0 451.2L240.3 417.9L238.7 401.3L247.0 377.9L262.0 361.3L278.6 353.0Z" fill="#82a6ff" stroke="#82a6ff" stroke-width="0.8" stroke-linejoin="round"/>
<path d="M396.9 372.9L403.5 357.9L418.5 346.3L438.5 339.6L471.8 335.3L520.1 332.3L546.2 333.3L576.5 331.3L610.9 326.2L633.1 321.2L659.3 323.8L673.4 317.8L721.9 315.7L752.2 316.2L820.0 313.7L883.6 309.6L1081.8 315.6L1081.8 317.3L983.5 324.6L883.6 331.3L833.6 338.0L820.3 344.0L825.3 372.3L800.3 401.3L773.6 424.6L750.3 454.5L760.3 484.5L783.6 511.2L808.6 537.8L801.9 548.2L802.0 548.0L772.0 560.5L747.0 572.0L727.0 564.0L717.0 569.7L695.0 566.3L671.7 571.3L655.0 579.6L638.4 578.0L616.7 588.0L591.8 578.0L568.4 564.7L545.1 554.7L521.8 559.7L495.2 561.3L470.2 548.0L465.2 548.2L462.5 537.8L470.2 511.2L498.5 487.9L521.8 494.5L546.8 507.8L571.8 497.9L598.4 484.5L616.7 464.5L619.1 463.9L625.1 464.5L635.1 484.5L655.0 492.9L671.7 484.5L701.7 501.2L717.0 507.8L717.0 504.5L732.0 477.9L733.7 454.5L717.0 429.6L717.0 424.6L701.7 417.9L688.4 424.6L675.0 434.6L668.4 424.6L655.0 416.2L635.1 424.6L621.7 444.6L619.1 446.2L615.1 437.9L591.8 426.2L565.1 421.2L535.1 427.9L508.5 454.5L501.8 474.5L488.5 467.9L468.5 459.5L455.2 444.6L441.9 434.6L428.5 421.2L413.5 401.3L401.9 387.9Z" fill="#82a6ff" stroke="#82a6ff" stroke-width="0.8" stroke-linejoin="round"/>
<path d="M1325.2 349.6L1345.2 344.0L1365.2 356.3L1378.5 372.9L1371.8 404.6L1361.8 427.9L1351.8 457.9L1346.8 491.2L1343.5 524.5L1331.9 537.8L1325.2 548.2L1320.2 548.2L1321.9 511.2L1325.2 477.9L1320.2 437.9L1308.5 441.2L1301.9 424.6L1293.5 399.6L1300.2 377.9L1308.5 364.6Z" fill="#82a6ff" stroke="#82a6ff" stroke-width="0.8" stroke-linejoin="round"/>
<path d="M1298.5 681.2L1303.5 674.6L1308.5 691.2L1311.2 747.9L1311.2 787.8L1298.5 801.2L1271.9 801.2L1251.9 794.5L1231.9 784.5L1225.3 764.5L1231.9 756.2L1258.6 751.2L1278.6 756.2L1288.5 761.2L1293.5 734.5L1293.5 704.6Z" fill="#82a6ff" stroke="#82a6ff" stroke-width="0.8" stroke-linejoin="round"/>
<path d="M260.3 734.5L264.6 721.2L269.3 741.2L268.6 767.9L263.6 774.5L260.3 761.2Z" fill="#82a6ff" stroke="#82a6ff" stroke-width="0.8" stroke-linejoin="round"/>
<path d="M298.6 355.3L328.6 354.6L343.6 361.3L350.2 374.6L345.3 397.9L331.9 424.6L315.3 447.9L311.9 464.5L316.9 491.2L321.9 517.8L325.3 548.2L311.9 548.0L298.6 554.0L280.3 556.3L265.3 548.0L258.6 548.2L262.0 517.8L272.0 477.9L272.0 457.9L258.6 434.6L245.3 411.2L244.7 399.6L253.6 384.6L268.6 367.9L283.6 359.6Z" fill="#b4ceff" stroke="#b4ceff" stroke-width="0.8" stroke-linejoin="round"/>
<path d="M331.3 588.0L337.9 578.0L352.6 594.6L346.9 608.0L338.6 614.6L333.6 603.0Z" fill="#b4ceff" stroke="#b4ceff" stroke-width="0.8" stroke-linejoin="round"/>
<path d="M406.9 374.6L411.9 361.3L428.5 349.6L455.2 343.0L488.5 340.0L520.1 339.3L552.3 342.0L576.5 339.4L600.8 334.3L623.0 331.3L639.1 333.3L659.3 339.0L673.4 330.3L681.5 334.3L691.6 342.4L701.7 348.1L711.8 347.4L723.9 340.4L738.0 324.2L754.2 317.8L820.0 315.7L816.9 313.0L916.9 311.3L1036.8 316.3L950.2 321.3L850.2 326.3L800.3 328.0L770.3 333.0L763.6 344.6L763.3 343.4L780.4 355.5L795.6 371.7L784.5 386.8L772.4 400.9L760.3 415.1L742.1 429.2L730.0 419.1L713.8 407.0L701.7 400.9L687.6 403.0L673.4 418.1L667.4 413.1L659.3 400.9L651.2 399.9L641.1 407.0L620.9 420.1L614.9 419.1L600.8 413.1L580.6 407.0L564.4 404.0L550.3 406.0L532.1 413.1L520.0 419.1L505.1 424.6L475.2 427.9L448.5 424.6L428.5 411.2L415.2 394.6Z" fill="#b4ceff" stroke="#b4ceff" stroke-width="0.8" stroke-linejoin="round"/>
<path d="M582.0 538.0L592.0 513.0L617.0 490.5L637.0 503.0L657.0 513.0L672.0 503.0L689.5 518.0L692.0 538.0L682.0 558.0L662.0 568.0L642.0 565.5L617.0 578.0L597.0 563.0Z" fill="#b4ceff" stroke="#b4ceff" stroke-width="0.8" stroke-linejoin="round"/>
<path d="M724.5 538.0L737.0 513.0L747.0 505.5L757.0 518.0L764.5 538.0L752.0 558.0L742.0 558.0Z" fill="#b4ceff" stroke="#b4ceff" stroke-width="0.8" stroke-linejoin="round"/>
<path d="M1330.2 356.3L1345.2 350.6L1360.2 357.9L1371.2 374.6L1365.2 404.6L1353.5 434.6L1345.2 457.9L1338.5 464.5L1331.9 451.2L1325.2 421.2L1316.9 404.6L1310.2 424.6L1303.5 411.2L1298.5 397.9L1305.2 374.6L1315.2 369.6L1323.5 374.6Z" fill="#b4ceff" stroke="#b4ceff" stroke-width="0.8" stroke-linejoin="round"/>
<path d="M1296.9 704.6L1301.9 694.6L1308.5 714.6L1310.5 781.2L1300.2 796.2L1278.6 797.8L1258.6 787.8L1240.2 774.5L1248.6 764.5L1258.6 764.5L1268.6 771.2L1285.2 769.5L1291.9 747.9Z" fill="#b4ceff" stroke="#b4ceff" stroke-width="0.8" stroke-linejoin="round"/>
<path d="M282.0 367.9L300.3 361.3L328.6 360.6L340.3 366.3L344.6 377.9L338.6 401.3L321.9 424.6L301.9 441.2L288.6 447.9L278.6 437.9L267.0 414.6L253.6 399.6L268.6 384.6Z" fill="#d6eaff" stroke="#d6eaff" stroke-width="0.8" stroke-linejoin="round"/>
<path d="M290.3 507.8L298.6 501.9L305.3 514.5L306.9 537.8L298.6 541.2L292.0 537.8Z" fill="#d6eaff" stroke="#d6eaff" stroke-width="0.8" stroke-linejoin="round"/>
<path d="M267.0 537.8L278.6 516.2L287.0 537.8L282.0 541.2L272.0 541.2Z" fill="#d6eaff" stroke="#d6eaff" stroke-width="0.8" stroke-linejoin="round"/>
<path d="M416.9 374.6L425.2 361.3L448.5 353.0L481.8 348.0L520.1 348.3L532.1 355.5L546.2 364.6L562.4 369.7L574.5 365.6L586.6 354.5L595.7 344.4L620.9 339.4L637.1 344.4L644.2 358.6L649.2 367.6L654.3 370.7L659.3 369.7L665.4 354.5L669.4 345.4L673.8 343.4L679.5 352.5L684.5 364.6L688.0 371.7L682.5 384.8L678.5 396.9L674.5 403.0L669.4 398.9L664.4 384.8L659.3 374.7L653.3 373.1L645.2 380.8L633.1 394.9L620.9 405.0L614.9 404.6L600.8 397.9L586.6 390.9L574.5 380.8L562.4 374.7L546.2 379.7L532.1 392.9L520.0 405.0L505.1 411.2L481.8 417.9L455.2 419.6L435.2 412.9L421.9 394.6Z" fill="#d6eaff" stroke="#d6eaff" stroke-width="0.8" stroke-linejoin="round"/>
<path d="M708.8 372.1L723.9 362.6L741.1 350.9L756.2 362.6L767.3 372.1L758.2 386.8L750.2 403.0L741.1 410.6L730.0 403.0L719.9 388.8Z" fill="#d6eaff" stroke="#d6eaff" stroke-width="0.8" stroke-linejoin="round"/>
<path d="M856.9 316.3L903.5 314.6L953.5 316.3L903.5 318.0Z" fill="#d6eaff" stroke="#d6eaff" stroke-width="0.8" stroke-linejoin="round"/>
<path d="M599.5 538.0L614.5 508.0L627.0 538.0L617.0 560.5Z" fill="#d6eaff" stroke="#d6eaff" stroke-width="0.8" stroke-linejoin="round"/>
<path d="M656.0 538.0L664.5 533.0L671.0 538.0L662.0 543.0Z" fill="#d6eaff" stroke="#d6eaff" stroke-width="0.8" stroke-linejoin="round"/>
<path d="M1328.5 366.3L1341.8 357.9L1356.8 366.3L1361.2 377.9L1358.5 404.6L1350.2 427.9L1341.8 437.9L1333.5 427.9L1326.9 407.9L1323.5 384.6Z" fill="#d6eaff" stroke="#d6eaff" stroke-width="0.8" stroke-linejoin="round"/>
<path d="M1302.5 399.6L1308.5 391.9L1314.2 399.6L1308.5 407.2Z" fill="#d6eaff" stroke="#d6eaff" stroke-width="0.8" stroke-linejoin="round"/>
<path d="M1297.9 721.2L1302.5 714.6L1307.9 734.5L1310.2 781.2L1298.5 792.8L1278.6 794.5L1265.2 784.5L1263.6 771.2L1275.2 764.5L1288.5 774.5L1294.5 754.5Z" fill="#d6eaff" stroke="#d6eaff" stroke-width="0.8" stroke-linejoin="round"/>
<path d="M283.6 372.9L305.3 367.3L331.9 367.3L335.9 377.9L333.6 397.9L318.6 411.2L298.6 421.2L282.0 424.6L272.0 411.2L268.0 399.6L277.0 384.6Z" fill="#ffead8" stroke="#ffead8" stroke-width="0.8" stroke-linejoin="round"/>
<path d="M430.2 371.3L455.2 365.3L481.8 361.3L505.1 360.6L523.5 372.3L515.1 384.6L503.5 399.6L481.8 402.9L455.2 406.2L435.2 402.9L430.2 391.3Z" fill="#ffead8" stroke="#ffead8" stroke-width="0.8" stroke-linejoin="round"/>
<path d="M599.7 371.7L610.9 364.6L618.9 354.9L624.0 358.6L630.6 371.7L623.0 383.8L616.9 385.2L608.8 377.7Z" fill="#ffead8" stroke="#ffead8" stroke-width="0.8" stroke-linejoin="round"/>
<path d="M668.4 372.1L673.4 366.0L677.5 372.1L673.4 379.1Z" fill="#ffead8" stroke="#ffead8" stroke-width="0.8" stroke-linejoin="round"/>
<path d="M734.4 372.1L741.1 368.0L747.7 372.1L741.1 382.2Z" fill="#ffead8" stroke="#ffead8" stroke-width="0.8" stroke-linejoin="round"/>
<path d="M1330.2 374.6L1336.9 365.3L1348.5 365.3L1355.2 374.6L1354.5 401.3L1346.8 414.6L1341.2 420.6L1333.5 411.2L1328.5 394.6Z" fill="#ffead8" stroke="#ffead8" stroke-width="0.8" stroke-linejoin="round"/>
<path d="M1300.2 747.9L1303.5 741.2L1308.5 781.2L1301.9 787.8L1291.9 789.5L1278.6 788.5L1273.6 784.5L1281.9 781.2L1291.9 777.8L1296.9 764.5Z" fill="#ffead8" stroke="#ffead8" stroke-width="0.8" stroke-linejoin="round"/>
<path d="M277.0 397.9L290.3 384.6L311.9 381.3L319.3 399.6L306.9 404.6L290.3 410.6L282.0 406.2Z" fill="#ffccb4" stroke="#ffccb4" stroke-width="0.8" stroke-linejoin="round"/>
<path d="M1335.9 374.6L1341.8 369.6L1349.2 374.6L1348.5 399.6L1341.8 407.2L1335.9 399.6Z" fill="#ffccb4" stroke="#ffccb4" stroke-width="0.8" stroke-linejoin="round"/>
<path d="M1290.2 786.2L1294.5 771.2L1296.9 761.2L1297.9 774.5L1293.5 787.8Z" fill="#ffccb4" stroke="#ffccb4" stroke-width="0.8" stroke-linejoin="round"/>
<path d="M1301.9 764.5L1305.9 774.5L1308.5 786.2L1305.2 782.8L1301.2 771.2Z" fill="#ffccb4" stroke="#ffccb4" stroke-width="0.8" stroke-linejoin="round"/>
<path d="M642.1 455.5L654.3 443.3L660.3 443.8L664.4 455.1L659.3 464.5L653.3 465.2L647.2 461.5Z" fill="#1c50ff" stroke="#1c50ff" stroke-width="0.8" stroke-linejoin="round"/>
<path d="M683.1 455.5L687.6 447.4L697.7 443.8L705.7 447.4L714.8 455.9L709.8 473.6L705.7 482.7L697.7 481.7L689.6 467.6Z" fill="#1c50ff" stroke="#1c50ff" stroke-width="0.8" stroke-linejoin="round"/>
<path d="M355.2 424.6L370.2 411.2L385.2 424.6L401.9 461.2L403.5 481.2L388.6 504.5L376.9 519.5L360.2 516.2L355.2 477.9L353.6 451.2Z" fill="#001cb4" stroke="#001cb4" stroke-width="0.8" stroke-linejoin="round"/>
<path d="M222.0 331.3L272.0 343.0L242.0 357.9L222.0 364.6Z" fill="#001cb4" stroke="#001cb4" stroke-width="0.8" stroke-linejoin="round"/>
<path d="M222.0 484.5L230.3 517.8L232.0 548.2L235.3 584.6L247.0 614.6L255.3 644.6L257.0 681.2L253.6 707.9L245.3 734.5L232.0 747.9L222.0 749.5Z" fill="#001cb4" stroke="#001cb4" stroke-width="0.8" stroke-linejoin="round"/>
<path d="M285.3 694.6L288.6 677.9L298.6 673.9L306.9 681.2L308.6 691.2L315.9 704.6L311.9 717.9L303.6 734.5L306.9 761.2L301.9 774.5L293.6 784.5L282.0 787.8L283.6 747.9Z" fill="#001cb4" stroke="#001cb4" stroke-width="0.8" stroke-linejoin="round"/>
<path d="M371.9 614.6L375.2 593.0L385.2 590.6L398.5 598.0L418.5 618.0L435.2 647.9L439.2 681.2L436.9 714.6L430.2 741.2L411.9 761.2L403.5 761.2L393.6 757.2L385.2 774.5L378.6 761.2L373.6 727.9L378.6 681.2L375.2 647.9Z" fill="#001cb4" stroke="#001cb4" stroke-width="0.8" stroke-linejoin="round"/>
<path d="M520.1 727.9L521.8 704.6L535.1 671.3L551.8 647.9L583.4 646.9L588.4 657.9L591.1 687.9L591.1 721.2L588.4 747.9L581.8 756.2L555.1 753.9L531.8 744.5Z" fill="#001cb4" stroke="#001cb4" stroke-width="0.8" stroke-linejoin="round"/>
<path d="M700.0 678.0L709.5 674.5L720.5 703.0L718.0 728.0L709.5 742.0L700.5 728.0L699.5 703.0Z" fill="#001cb4" stroke="#001cb4" stroke-width="0.8" stroke-linejoin="round"/>
<path d="M782.0 718.0L792.0 730.5L784.5 743.0Z" fill="#001cb4" stroke="#001cb4" stroke-width="0.8" stroke-linejoin="round"/>
<path d="M983.5 344.6L1050.1 339.6L1116.7 336.3L1212.0 331.3L1178.6 339.6L1245.2 339.0L1278.6 340.6L1290.2 344.6L1298.5 344.6L1263.6 399.6L1278.6 421.2L1291.9 451.2L1296.9 477.9L1298.5 511.2L1299.2 548.2L1297.9 548.0L1296.9 614.6L1288.5 657.9L1278.6 681.2L1275.2 704.6L1258.6 712.9L1228.6 721.2L1195.3 734.5L1155.3 756.2L1112.0 767.9L1112.0 768.0L1060.0 773.0L960.0 770.5L860.0 765.5L872.0 753.0L822.0 748.0L812.0 728.0L814.5 678.0L822.0 638.0L852.0 603.0L882.0 578.0L898.5 548.0L898.5 541.2L883.6 511.2L866.9 481.2L860.2 456.2L873.6 427.9L910.2 401.3L930.2 372.3L950.2 361.3Z" fill="#001cb4" stroke="#001cb4" stroke-width="0.8" stroke-linejoin="round"/>
<path d="M381.9 806.2L455.2 802.8L555.1 797.8L591.8 798.5L610.1 792.8L625.1 801.2L635.1 796.2L655.0 799.5L665.0 793.8L681.7 791.2L698.3 796.2L717.0 794.5L772.0 789.0L872.0 793.0L965.0 798.0L1060.0 802.0L1210.0 807.0L1300.0 813.0L381.9 814.5Z" fill="#001cb4" stroke="#001cb4" stroke-width="0.8" stroke-linejoin="round"/>
<path d="M521.8 814.5L588.4 810.5L717.0 809.5L1010.0 809.0L1160.0 812.0L1260.0 815.0Z" fill="#00008a" stroke="#00008a" stroke-width="0.8" stroke-linejoin="round"/>
<path d="M1288.5 344.6L1211.9 344.0L1096.7 344.6L1066.8 355.3L1033.5 362.9L1000.1 374.6L973.5 392.9L936.9 412.9L920.2 427.9L905.2 456.2L910.2 484.5L923.5 511.2L936.9 541.2L936.9 548.2L937.0 578.0L914.5 618.0L902.0 668.0L904.5 728.0L922.0 743.0L965.0 750.5L985.0 753.0L1060.0 758.0L1110.0 753.0L1112.0 751.2L1145.3 737.9L1178.6 721.2L1211.9 702.9L1235.3 687.9L1258.6 674.6L1275.2 657.9L1285.2 634.6L1291.9 598.0L1293.5 548.0L1293.5 548.2L1291.9 484.5L1285.2 464.5L1275.2 447.9L1258.6 434.6L1235.3 424.6L1211.9 419.6L1178.6 411.2L1147.0 401.3L1162.0 374.6L1188.6 366.3L1211.9 363.9L1230.3 368.6L1258.6 357.9Z" fill="#00008a" stroke="#00008a" stroke-width="0.8" stroke-linejoin="round"/>
<path d="M1500.1 344.6L1511.7 338.0L1545.0 334.6L1601.0 339.6L1601.0 371.3L1585.0 387.9L1571.7 400.3L1558.4 384.6L1545.0 367.9L1525.1 356.3Z" fill="#00008a" stroke="#00008a" stroke-width="0.8" stroke-linejoin="round"/>
<path d="M1388.5 477.9L1390.1 451.2L1398.5 442.9L1420.1 437.9L1445.1 446.2L1471.8 454.5L1495.1 449.6L1521.7 434.6L1548.4 417.9L1571.7 400.6L1581.7 417.9L1591.7 444.6L1601.0 464.5L1601.0 507.8L1585.0 527.8L1571.7 534.5L1551.7 531.2L1528.4 521.2L1505.1 507.8L1488.4 494.5L1475.1 487.9L1458.4 492.9L1438.4 504.5L1421.8 500.5L1408.5 500.5L1396.8 516.2L1390.1 511.2Z" fill="#00008a" stroke="#00008a" stroke-width="0.8" stroke-linejoin="round"/>
<path d="M1395.1 603.0L1400.1 614.6L1405.1 657.9L1403.5 697.9L1398.5 734.5L1396.8 774.5L1401.8 799.5L1370.2 799.5L1363.5 774.5L1365.2 761.2L1370.2 756.2L1378.5 771.2L1383.5 747.9L1388.5 697.9L1391.8 647.9L1394.5 614.6Z" fill="#00008a" stroke="#00008a" stroke-width="0.8" stroke-linejoin="round"/>
<path d="M1428.5 704.6L1436.8 677.9L1448.4 647.9L1453.4 657.9L1456.8 697.9L1455.1 734.5L1446.8 759.5L1440.1 747.9L1431.8 724.5Z" fill="#00008a" stroke="#00008a" stroke-width="0.8" stroke-linejoin="round"/>
<path d="M1601.0 598.0L1591.7 589.6L1580.0 588.0L1561.7 604.6L1548.4 627.9L1541.7 647.9L1548.4 674.6L1565.0 694.6L1581.7 707.9L1601.0 709.6Z" fill="#00008a" stroke="#00008a" stroke-width="0.8" stroke-linejoin="round"/>
<path d="M222.0 614.6L233.7 634.6L238.0 661.3L235.3 687.9L222.0 704.6Z" fill="#00008a" stroke="#00008a" stroke-width="0.8" stroke-linejoin="round"/>
<path d="M358.6 752.9L365.2 751.2L370.2 764.5L373.6 787.8L356.9 787.8L356.9 761.2Z" fill="#00008a" stroke="#00008a" stroke-width="0.8" stroke-linejoin="round"/>
<path d="M365.9 456.2L372.6 449.6L378.6 456.9L372.6 463.9Z" fill="#00008a" stroke="#00008a" stroke-width="0.8" stroke-linejoin="round"/>
<path d="M222.0 339.6L238.7 348.0L222.0 349.6Z" fill="#00008a" stroke="#00008a" stroke-width="0.8" stroke-linejoin="round"/>
<path d="M222.0 278.0L1601.0 278.0L1601.0 304.0L222.0 304.0Z" fill="#00008a" stroke="#00008a" stroke-width="0.8" stroke-linejoin="round"/>
</g>
<rect x="260" y="801" width="120.0" height="15.0" fill="#000"/><rect x="270" y="788" width="105.0" height="14.0" fill="#000"/><rect x="318.6" y="774" width="52.4" height="15.0" fill="#000"/><rect x="328.6" y="759.5" width="28.4" height="15.5" fill="#000"/><rect x="607" y="801" width="9.5" height="15.0" fill="#000"/><rect x="1303.5" y="801" width="105.0" height="15.0" fill="#000"/><rect x="1308.5" y="787.5" width="9.5" height="14.5" fill="#000"/>
<rect x="222.5" y="278.0" width="1378.5" height="537.0" fill="none" stroke="#000" stroke-width="4.4"/>
<text transform="translate(165.5 291.2) scale(0.97 1)" font-size="36" text-anchor="end" font-weight="bold">30</text>
<text transform="translate(165.5 302.2) scale(0.97 1)" font-size="36" text-anchor="end" font-weight="bold">50</text>
<text transform="translate(165.5 313.3) scale(0.97 1)" font-size="36" text-anchor="end" font-weight="bold">70</text>
<text transform="translate(165.5 329.9) scale(0.97 1)" font-size="36" text-anchor="end" font-weight="bold">100</text>
<text transform="translate(165.5 357.6) scale(0.97 1)" font-size="36" text-anchor="end" font-weight="bold">150</text>
<text transform="translate(165.5 385.2) scale(0.97 1)" font-size="36" text-anchor="end" font-weight="bold">200</text>
<text transform="translate(165.5 412.9) scale(0.97 1)" font-size="36" text-anchor="end" font-weight="bold">250</text>
<text transform="translate(165.5 440.6) scale(0.97 1)" font-size="36" text-anchor="end" font-weight="bold">300</text>
<text transform="translate(165.5 495.9) scale(0.97 1)" font-size="36" text-anchor="end" font-weight="bold">400</text>
<text transform="translate(165.5 551.2) scale(0.97 1)" font-size="36" text-anchor="end" font-weight="bold">500</text>
<text transform="translate(165.5 661.9) scale(0.97 1)" font-size="36" text-anchor="end" font-weight="bold">700</text>
<text transform="translate(165.5 744.9) scale(0.97 1)" font-size="36" text-anchor="end" font-weight="bold">850</text>
<text transform="translate(165.5 827.9) scale(0.97 1)" font-size="36" text-anchor="end" font-weight="bold">1000</text>
<text transform="translate(1658.0 304.9) scale(0.97 1)" font-size="36" text-anchor="start" font-weight="bold">20</text>
<text transform="translate(1658.0 331.2) scale(0.97 1)" font-size="36" text-anchor="start" font-weight="bold">16</text>
<text transform="translate(1658.0 381.7) scale(0.97 1)" font-size="36" text-anchor="start" font-weight="bold">12</text>
<text transform="translate(1658.0 471.8) scale(0.97 1)" font-size="36" text-anchor="start" font-weight="bold">8</text>
<text transform="translate(1658.0 615.7) scale(0.97 1)" font-size="36" text-anchor="start" font-weight="bold">4</text>
<g stroke="#000" stroke-linecap="round" fill="none"><path d="M222.5 278.0 V247 M222.5 815.0 V845.5" stroke-width="4.4"/><path d="M337.8 278.0 V261 M337.8 815.0 V831" stroke-width="2.4"/><path d="M453.0 278.0 V247 M453.0 815.0 V845.5" stroke-width="4.4"/><path d="M568.3 278.0 V261 M568.3 815.0 V831" stroke-width="2.4"/><path d="M683.5 278.0 V247 M683.5 815.0 V845.5" stroke-width="4.4"/><path d="M798.8 278.0 V261 M798.8 815.0 V831" stroke-width="2.4"/><path d="M914.0 278.0 V247 M914.0 815.0 V845.5" stroke-width="4.4"/><path d="M1029.3 278.0 V261 M1029.3 815.0 V831" stroke-width="2.4"/><path d="M1144.5 278.0 V247 M1144.5 815.0 V845.5" stroke-width="4.4"/><path d="M1259.8 278.0 V261 M1259.8 815.0 V831" stroke-width="2.4"/><path d="M1375.0 278.0 V247 M1375.0 815.0 V845.5" stroke-width="4.4"/><path d="M1490.3 278.0 V261 M1490.3 815.0 V831" stroke-width="2.4"/><path d="M190.4 278.0 H222.5" stroke-width="4.4"/><path d="M190.4 289.0 H222.5" stroke-width="4.4"/><path d="M190.4 300.1 H222.5" stroke-width="4.4"/><path d="M190.4 316.7 H222.5" stroke-width="4.4"/><path d="M190.4 344.4 H222.5" stroke-width="4.4"/><path d="M190.4 372.0 H222.5" stroke-width="4.4"/><path d="M190.4 399.7 H222.5" stroke-width="4.4"/><path d="M190.4 427.4 H222.5" stroke-width="4.4"/><path d="M190.4 482.7 H222.5" stroke-width="4.4"/><path d="M190.4 538.0 H222.5" stroke-width="4.4"/><path d="M190.4 648.7 H222.5" stroke-width="4.4"/><path d="M190.4 731.7 H222.5" stroke-width="4.4"/><path d="M190.4 814.7 H222.5" stroke-width="4.4"/><path d="M1601.0 291.7 H1632.6" stroke-width="4.4"/><path d="M1601.0 318.0 H1632.6" stroke-width="4.4"/><path d="M1601.0 368.5 H1632.6" stroke-width="4.4"/><path d="M1601.0 458.6 H1632.6" stroke-width="4.4"/><path d="M1601.0 602.5 H1632.6" stroke-width="4.4"/></g>
<text transform="translate(222.5 898.3) scale(0.975 1)" font-size="36" text-anchor="middle" font-weight="bold">0</text>
<text transform="translate(453.0 898.3) scale(0.975 1)" font-size="36" text-anchor="middle" font-weight="bold">60E</text>
<text transform="translate(683.5 898.3) scale(0.975 1)" font-size="36" text-anchor="middle" font-weight="bold">120E</text>
<text transform="translate(914.0 898.3) scale(0.975 1)" font-size="36" text-anchor="middle" font-weight="bold">180</text>
<text transform="translate(1144.5 898.3) scale(0.975 1)" font-size="36" text-anchor="middle" font-weight="bold">120W</text>
<text transform="translate(1375.0 898.3) scale(0.975 1)" font-size="36" text-anchor="middle" font-weight="bold">60W</text>
<text transform="translate(44.7 547.0) rotate(-90) scale(0.978 1)" font-size="56" text-anchor="middle" font-weight="bold">Pressure (mb)</text>
<text transform="translate(1777.0 543.0) rotate(-90) scale(0.94 1)" font-size="57" text-anchor="middle" font-weight="bold">Height (km)</text>
<text transform="translate(911.5 930.0) scale(0.955 1)" font-size="33" text-anchor="middle" font-weight="bold" xml:space="preserve">MIN =   0.00  MAX =   0.51</text>
<rect x="230.00" y="965" width="85.22" height="21.5" fill="#00008a" stroke="#000" stroke-width="2.2"/>
<rect x="315.22" y="965" width="85.22" height="21.5" fill="#001cb4" stroke="#000" stroke-width="2.2"/>
<rect x="400.44" y="965" width="85.22" height="21.5" fill="#0032de" stroke="#000" stroke-width="2.2"/>
<rect x="485.66" y="965" width="85.22" height="21.5" fill="#1c50ff" stroke="#000" stroke-width="2.2"/>
<rect x="570.88" y="965" width="85.22" height="21.5" fill="#4478ff" stroke="#000" stroke-width="2.2"/>
<rect x="656.09" y="965" width="85.22" height="21.5" fill="#82a6ff" stroke="#000" stroke-width="2.2"/>
<rect x="741.31" y="965" width="85.22" height="21.5" fill="#b4ceff" stroke="#000" stroke-width="2.2"/>
<rect x="826.53" y="965" width="85.22" height="21.5" fill="#d6eaff" stroke="#000" stroke-width="2.2"/>
<rect x="911.75" y="965" width="85.22" height="21.5" fill="#ffead8" stroke="#000" stroke-width="2.2"/>
<rect x="996.97" y="965" width="85.22" height="21.5" fill="#ffccb4" stroke="#000" stroke-width="2.2"/>
<rect x="1082.19" y="965" width="85.22" height="21.5" fill="#ffa880" stroke="#000" stroke-width="2.2"/>
<rect x="1167.41" y="965" width="85.22" height="21.5" fill="#fd7b46" stroke="#000" stroke-width="2.2"/>
<rect x="1252.62" y="965" width="85.22" height="21.5" fill="#ff541c" stroke="#000" stroke-width="2.2"/>
<rect x="1337.84" y="965" width="85.22" height="21.5" fill="#e23200" stroke="#000" stroke-width="2.2"/>
<rect x="1423.06" y="965" width="85.22" height="21.5" fill="#b82804" stroke="#000" stroke-width="2.2"/>
<rect x="1508.28" y="965" width="85.22" height="21.5" fill="#8c0000" stroke="#000" stroke-width="2.2"/>
<text transform="translate(315.2 1023.5)" font-size="32" text-anchor="middle" font-weight="bold">0.05</text>
<text transform="translate(400.4 1023.5)" font-size="32" text-anchor="middle" font-weight="bold"></text>
<text transform="translate(485.7 1023.5)" font-size="32" text-anchor="middle" font-weight="bold">0.15</text>
<text transform="translate(570.9 1023.5)" font-size="32" text-anchor="middle" font-weight="bold"></text>
<text transform="translate(656.1 1023.5)" font-size="32" text-anchor="middle" font-weight="bold">0.25</text>
<text transform="translate(741.3 1023.5)" font-size="32" text-anchor="middle" font-weight="bold"></text>
<text transform="translate(826.5 1023.5)" font-size="32" text-anchor="middle" font-weight="bold">0.35</text>
<text transform="translate(911.8 1023.5)" font-size="32" text-anchor="middle" font-weight="bold"></text>
<text transform="translate(997.0 1023.5)" font-size="32" text-anchor="middle" font-weight="bold">0.45</text>
<text transform="translate(1082.2 1023.5)" font-size="32" text-anchor="middle" font-weight="bold"></text>
<text transform="translate(1167.4 1023.5)" font-size="32" text-anchor="middle" font-weight="bold">0.55</text>
<text transform="translate(1252.6 1023.5)" font-size="32" text-anchor="middle" font-weight="bold"></text>
<text transform="translate(1337.8 1023.5)" font-size="32" text-anchor="middle" font-weight="bold">0.65</text>
<text transform="translate(1423.1 1023.5)" font-size="32" text-anchor="middle" font-weight="bold"></text>
<text transform="translate(1508.3 1023.5)" font-size="32" text-anchor="middle" font-weight="bold">0.75</text>
</g>
<g transform="translate(0 1944)">
<text transform="translate(912.0 166.0) scale(1.053 1)" font-size="50" text-anchor="middle">f09.B-SSP585.ss50 - f09.B-hist.tn15.cmip6.k32</text>
<text transform="translate(221.0 241.0) scale(1.053 1)" font-size="40" text-anchor="start" font-weight="bold">Cloud fraction</text>
<text transform="translate(1605.0 241.0) scale(1.06 1)" font-size="40" text-anchor="end" font-weight="bold">fraction</text>
<clipPath id="clip1944"><rect x="222.5" y="278.0" width="1378.5" height="537.0"/></clipPath>
<g clip-path="url(#clip1944)">
<rect x="222.5" y="278.0" width="1378.5" height="537.0" fill="#ffead8"/>
<path d="M222.0 309.6L235.3 318.0L242.0 327.3L272.0 324.6L305.3 321.3L331.9 323.0L355.2 331.3L361.9 335.3L371.9 329.6L408.5 323.0L428.5 318.0L435.2 309.6L455.2 305.3L505.1 303.0L555.1 304.0L621.7 305.3L688.4 307.3L710.0 317.3L681.7 323.0L655.0 324.6L588.4 324.6L538.5 326.3L495.2 333.0L475.2 341.3L468.5 349.6L461.8 366.3L435.2 374.6L408.5 379.6L381.9 377.9L370.2 372.9L366.9 357.9L361.9 353.9L355.2 356.3L350.2 354.6L341.9 367.9L331.9 377.9L305.3 387.9L282.0 387.9L252.0 386.3L235.3 391.3L222.0 394.6Z" fill="#ffccb4" stroke="#ffccb4" stroke-width="0.8" stroke-linejoin="round"/>
<path d="M222.0 366.3L242.0 357.9L262.0 344.6L275.3 333.0L305.3 328.0L325.3 329.6L338.6 344.6L328.6 364.6L321.9 376.3L301.9 381.9L272.0 381.9L242.0 379.6L222.0 384.6Z" fill="#ffa880" stroke="#ffa880" stroke-width="0.8" stroke-linejoin="round"/>
<path d="M381.2 344.6L408.5 333.0L435.2 332.0L443.5 338.0L445.9 344.6L428.5 361.3L405.2 372.3L391.9 364.6Z" fill="#ffa880" stroke="#ffa880" stroke-width="0.8" stroke-linejoin="round"/>
<path d="M451.8 317.3L475.2 311.3L508.5 309.0L555.1 311.3L575.1 316.3L538.5 321.3L505.1 324.6L471.8 326.3L456.8 323.0Z" fill="#ffa880" stroke="#ffa880" stroke-width="0.8" stroke-linejoin="round"/>
<path d="M585.1 316.3L618.4 310.6L655.0 316.3L618.4 321.3Z" fill="#ffa880" stroke="#ffa880" stroke-width="0.8" stroke-linejoin="round"/>
<path d="M232.0 372.9L252.0 362.9L268.6 353.0L278.6 339.6L305.3 333.0L321.9 334.6L333.6 344.6L323.6 361.3L318.6 371.3L298.6 377.3L272.0 377.9L248.6 376.3Z" fill="#fd7b46" stroke="#fd7b46" stroke-width="0.8" stroke-linejoin="round"/>
<path d="M407.9 344.6L415.2 342.0L422.9 344.6L416.9 348.6Z" fill="#fd7b46" stroke="#fd7b46" stroke-width="0.8" stroke-linejoin="round"/>
<path d="M485.2 316.3L508.5 312.3L535.1 316.3L508.5 319.6Z" fill="#fd7b46" stroke="#fd7b46" stroke-width="0.8" stroke-linejoin="round"/>
<path d="M253.6 371.3L268.6 364.6L282.0 349.6L293.6 341.3L311.9 339.6L321.3 344.6L315.3 357.9L305.3 369.6L285.3 376.3L265.3 374.6Z" fill="#ff541c" stroke="#ff541c" stroke-width="0.8" stroke-linejoin="round"/>
<path d="M757.0 316.3L772.0 314.0L790.3 316.3L772.0 318.0Z" fill="#ffccb4" stroke="#ffccb4" stroke-width="0.8" stroke-linejoin="round"/>
<path d="M877.9 372.3L903.5 367.3L930.2 365.3L956.8 365.3L973.5 367.3L1000.1 367.9L1033.5 362.9L1083.4 356.3L1133.4 351.3L1176.7 344.6L1162.0 341.3L1138.6 331.3L1122.0 321.3L1105.3 317.3L1145.3 309.6L1195.3 305.3L1278.6 304.0L1345.2 306.3L1378.5 310.6L1445.1 308.6L1511.7 306.3L1601.0 306.3L1601.0 333.0L1561.7 339.6L1528.4 341.3L1495.1 334.6L1461.8 330.6L1411.8 328.0L1388.5 333.0L1375.2 344.6L1360.2 353.9L1345.2 349.6L1338.5 361.3L1328.5 377.9L1325.2 389.6L1318.5 391.3L1311.9 384.6L1298.5 386.3L1271.9 389.6L1228.6 391.3L1178.6 394.6L1145.3 396.3L1112.0 392.9L1183.4 394.6L1150.0 396.3L1116.7 394.6L1083.4 396.3L1063.4 392.9L1036.8 393.9L1010.1 387.3L1000.1 387.3L990.2 392.9L976.8 391.9L963.5 395.3L936.9 398.6L928.5 400.3L946.8 409.6L956.8 411.2L961.8 417.9L966.8 416.2L973.5 427.9L983.5 434.6L1000.1 447.9L1023.5 459.5L1043.4 477.9L1063.4 494.5L1073.4 499.5L1086.8 501.9L1103.4 507.8L1126.7 510.5L1121.7 541.2L1083.4 542.8L1070.1 548.2L1070.1 548.0L1056.8 556.3L1043.4 566.3L1030.1 576.3L1016.8 586.3L1005.1 594.6L996.8 608.0L991.8 618.0L985.2 621.3L990.8 626.3L995.1 635.3L1000.1 639.6L1003.5 647.9L1005.1 691.9L1010.8 704.6L1001.8 707.9L996.8 717.9L991.8 732.2L980.2 733.2L971.8 732.2L962.8 712.9L955.2 703.9L952.8 679.6L947.5 674.6L945.2 647.9L939.5 631.3L934.2 619.6L930.2 611.3L923.5 593.0L913.5 576.3L908.5 563.0L896.9 548.0L890.2 548.2L883.6 541.2L863.6 532.8L850.2 522.8L826.9 519.5L804.3 510.5L808.6 497.9L815.3 486.2L825.3 484.5L833.6 474.5L846.9 474.5L853.6 467.9L863.6 454.5L873.6 447.9L890.2 441.2L903.5 437.9L915.2 427.9L921.9 414.6L928.5 400.3L916.9 392.9L910.2 384.6L900.2 379.6L886.9 376.3Z" fill="#ffccb4" stroke="#ffccb4" stroke-width="0.8" stroke-linejoin="round"/>
<path d="M1118.7 372.3L1145.3 366.3L1178.6 361.9L1195.3 363.9L1211.9 367.9L1238.6 368.6L1258.6 363.9L1275.2 366.3L1288.5 361.3L1301.9 344.6L1306.9 329.6L1321.9 324.0L1333.5 328.0L1340.2 343.0L1333.5 357.9L1328.5 374.6L1321.9 381.9L1311.9 377.9L1295.2 374.6L1271.9 376.3L1251.9 377.9L1228.6 375.3L1201.9 377.3L1178.6 380.6L1145.3 377.9Z" fill="#ffa880" stroke="#ffa880" stroke-width="0.8" stroke-linejoin="round"/>
<path d="M1196.9 317.3L1221.9 313.0L1261.9 311.3L1285.2 314.0L1293.5 317.3L1281.9 323.0L1251.9 325.3L1221.9 323.0Z" fill="#ffa880" stroke="#ffa880" stroke-width="0.8" stroke-linejoin="round"/>
<path d="M1470.1 316.3L1511.7 315.6L1545.0 314.0L1558.4 317.3L1545.0 319.6L1511.7 318.0Z" fill="#ffa880" stroke="#ffa880" stroke-width="0.8" stroke-linejoin="round"/>
<path d="M893.5 509.5L900.2 506.2L910.2 496.2L926.9 487.9L940.2 488.5L956.8 496.2L976.8 502.9L990.2 510.2L980.2 518.5L956.8 524.5L930.2 523.8L916.9 517.8L901.9 511.8Z" fill="#ffa880" stroke="#ffa880" stroke-width="0.8" stroke-linejoin="round"/>
<path d="M1317.9 344.6L1322.5 339.6L1329.2 344.0L1326.9 357.9L1323.5 372.3L1317.9 371.3Z" fill="#fd7b46" stroke="#fd7b46" stroke-width="0.8" stroke-linejoin="round"/>
<path d="M1488.4 372.3L1498.4 359.6L1511.7 350.6L1545.0 346.3L1578.4 349.6L1601.0 353.0L1601.0 411.2L1578.4 414.6L1558.4 419.6L1545.0 416.2L1531.7 404.6L1516.7 391.3L1498.4 381.3Z" fill="#ffccb4" stroke="#ffccb4" stroke-width="0.8" stroke-linejoin="round"/>
<path d="M1514.4 372.3L1528.4 366.3L1545.0 364.6L1560.0 372.3L1545.0 381.9L1528.4 377.9Z" fill="#ffa880" stroke="#ffa880" stroke-width="0.8" stroke-linejoin="round"/>
<path d="M1583.4 372.3L1601.0 366.3L1601.0 379.6Z" fill="#ffa880" stroke="#ffa880" stroke-width="0.8" stroke-linejoin="round"/>
<path d="M1475.1 509.5L1488.4 491.2L1495.1 479.5L1528.4 471.2L1545.0 462.9L1561.7 469.5L1601.0 474.5L1601.0 524.5L1578.4 531.2L1545.0 537.2L1511.7 532.8L1488.4 519.5Z" fill="#ffccb4" stroke="#ffccb4" stroke-width="0.8" stroke-linejoin="round"/>
<path d="M1205.3 510.2L1218.6 507.8L1228.6 497.9L1245.2 487.9L1260.2 475.2L1271.9 477.9L1285.2 486.2L1290.2 497.9L1292.9 511.2L1285.2 527.8L1275.2 537.8L1265.2 548.2L1268.6 548.0L1263.6 564.7L1261.2 581.3L1263.6 598.0L1271.9 621.3L1280.2 646.3L1283.6 650.6L1288.5 644.6L1293.5 631.3L1297.5 647.9L1300.2 661.3L1305.2 657.9L1306.9 694.6L1305.9 734.5L1303.5 754.5L1300.2 727.9L1296.9 714.6L1293.5 707.9L1281.9 704.6L1268.6 708.6L1258.6 707.2L1250.2 702.9L1235.3 676.2L1237.9 647.9L1243.6 634.6L1251.9 614.6L1259.2 593.0L1258.6 581.3L1254.6 564.7L1248.6 548.0L1245.2 548.2L1238.6 541.2L1225.3 526.2L1216.9 515.2L1208.6 513.8Z" fill="#ffccb4" stroke="#ffccb4" stroke-width="0.8" stroke-linejoin="round"/>
<path d="M1138.0 536.2L1142.6 533.8L1146.0 537.8L1141.3 540.5Z" fill="#ffccb4" stroke="#ffccb4" stroke-width="0.8" stroke-linejoin="round"/>
<path d="M965.2 800.2L970.2 796.2L981.8 788.5L993.5 792.8L1016.8 796.2L1050.1 798.5L1093.4 801.2L1066.8 803.5L1016.8 803.8L983.5 802.8Z" fill="#ffccb4" stroke="#ffccb4" stroke-width="0.8" stroke-linejoin="round"/>
<path d="M1221.9 801.2L1235.3 798.5L1246.9 801.2L1235.3 802.8Z" fill="#ffccb4" stroke="#ffccb4" stroke-width="0.8" stroke-linejoin="round"/>
<path d="M1138.4 536.2L1142.7 533.8L1146.7 537.8L1141.7 540.5Z" fill="#ffccb4" stroke="#ffccb4" stroke-width="0.8" stroke-linejoin="round"/>
<path d="M222.0 426.2L235.3 411.2L253.6 401.3L282.0 391.3L305.3 389.6L331.9 379.6L351.9 371.3L360.2 377.9L368.6 387.9L381.9 389.6L408.5 383.9L435.2 377.9L461.8 374.6L481.8 372.3L481.2 344.6L488.5 339.6L521.8 335.3L555.1 333.0L605.1 334.6L655.0 331.3L688.4 328.0L717.0 324.6L747.0 329.6L783.6 324.6L816.9 320.6L825.3 314.6L828.6 306.3L850.2 302.0L950.2 301.3L1050.1 301.3L1065.1 304.0L1068.4 309.6L1071.8 331.3L1076.8 344.6L1033.5 348.0L1000.1 353.0L973.5 353.0L950.2 355.3L923.5 357.9L883.6 357.9L863.6 365.3L846.9 372.3L855.2 381.3L870.2 391.3L882.6 400.6L873.6 414.6L861.9 424.6L850.2 434.6L826.9 444.6L810.3 451.2L798.6 466.2L780.3 464.5L763.6 461.9L748.6 482.9L742.0 509.5L760.3 517.8L783.6 521.2L816.9 526.2L850.2 537.8L856.9 548.2L856.9 548.0L863.6 558.0L872.9 566.3L866.9 584.6L860.2 601.3L853.6 621.3L845.2 634.6L837.6 647.9L838.6 681.2L836.9 714.6L836.3 732.9L843.6 741.2L856.9 744.5L876.9 753.9L916.9 756.2L983.5 757.9L1050.1 758.5L1093.4 759.5L1116.7 754.5L1133.4 744.5L1160.0 737.9L1183.4 724.5L1196.7 717.9L1212.0 713.9L1228.6 712.9L1258.6 717.9L1278.6 724.5L1288.5 722.9L1293.5 714.6L1296.9 727.9L1300.2 747.9L1303.5 764.5L1305.2 781.2L1303.5 794.5L1298.5 802.8L1288.5 806.2L1285.2 811.2L1280.2 809.5L1276.9 801.2L1268.6 796.2L1258.6 786.2L1211.9 787.8L1212.0 787.2L1150.0 790.5L1100.1 791.2L1050.1 786.2L983.5 782.8L916.9 781.2L840.3 779.5L826.9 782.8L811.9 787.2L816.9 796.2L820.9 801.8L803.6 808.5L767.0 808.5L737.0 811.2L717.0 811.8L608.4 802.8L555.1 814.5L222.0 814.5Z" fill="#d6eaff" stroke="#d6eaff" stroke-width="0.8" stroke-linejoin="round"/>
<path d="M1164.6 427.9L1188.6 421.2L1201.9 411.2L1215.3 399.6L1223.6 400.6L1233.6 409.6L1248.6 407.2L1258.6 416.2L1263.6 411.2L1268.6 399.6L1291.9 392.9L1305.2 391.3L1318.5 399.6L1326.9 381.3L1338.5 369.6L1345.2 362.9L1358.5 365.3L1375.2 360.6L1388.5 357.9L1405.1 338.0L1418.5 333.0L1445.1 333.0L1468.4 335.3L1491.7 344.6L1473.4 372.3L1488.4 384.6L1506.7 400.6L1510.1 414.6L1516.7 427.9L1503.4 439.6L1491.7 447.9L1478.4 462.9L1465.1 474.5L1458.4 491.2L1451.8 509.5L1465.1 524.5L1485.1 537.8L1495.1 548.2L1495.1 548.0L1601.0 548.0L1601.0 814.5L1313.5 814.5L1311.9 787.8L1311.2 781.2L1308.5 761.2L1311.2 714.6L1313.5 681.2L1311.9 631.3L1308.5 603.0L1302.5 598.0L1298.5 614.6L1296.2 581.3L1296.9 548.0L1301.9 548.2L1301.9 511.2L1298.5 491.2L1293.5 471.2L1285.2 454.5L1275.2 444.6L1265.2 436.2L1251.9 439.6L1238.6 437.9L1225.3 443.6L1211.9 442.9L1188.6 437.2Z" fill="#d6eaff" stroke="#d6eaff" stroke-width="0.8" stroke-linejoin="round"/>
<path d="M262.0 314.6L270.3 305.3L292.0 303.0L315.3 305.3L320.3 314.6L305.3 318.6L282.0 319.6L268.6 318.0Z" fill="#d6eaff" stroke="#d6eaff" stroke-width="0.8" stroke-linejoin="round"/>
<path d="M383.6 316.3L390.2 308.6L395.2 309.6L398.5 317.3Z" fill="#d6eaff" stroke="#d6eaff" stroke-width="0.8" stroke-linejoin="round"/>
<path d="M252.0 427.9L262.0 411.2L270.3 404.6L282.0 409.6L287.0 427.9L282.0 451.2L278.6 469.5L272.0 471.2L263.6 457.9L260.3 441.2Z" fill="#b4ceff" stroke="#b4ceff" stroke-width="0.8" stroke-linejoin="round"/>
<path d="M305.9 399.6L321.9 391.3L350.2 377.9L358.6 387.9L367.9 399.6L358.6 424.6L353.6 444.6L347.9 454.5L331.9 446.2L321.9 431.2L313.6 411.2Z" fill="#b4ceff" stroke="#b4ceff" stroke-width="0.8" stroke-linejoin="round"/>
<path d="M255.3 548.2L267.0 511.2L277.0 491.2L285.3 476.2L293.6 486.2L306.9 491.2L316.9 511.2L321.9 531.2L325.3 548.2L318.6 548.0L311.9 568.0L301.9 581.3L285.3 589.6L258.6 586.3L238.7 578.0L230.3 564.7L242.0 548.0Z" fill="#b4ceff" stroke="#b4ceff" stroke-width="0.8" stroke-linejoin="round"/>
<path d="M384.6 399.6L408.5 392.9L438.5 386.3L468.5 381.3L498.5 374.6L495.2 344.6L511.8 342.0L555.1 339.6L588.4 343.0L605.1 338.0L638.4 339.6L671.7 336.3L717.0 334.6L747.0 344.6L783.6 336.3L816.9 331.3L846.9 321.3L863.6 319.6L870.2 324.6L875.2 319.6L885.2 321.3L890.2 337.3L896.9 333.0L905.2 331.3L916.9 317.3L930.2 316.3L945.2 312.3L966.8 316.3L983.5 314.6L984.2 318.6L976.8 321.3L966.8 318.6L953.5 324.6L943.5 339.6L933.5 339.6L932.9 344.0L910.2 348.0L890.2 344.6L873.6 346.3L856.9 353.0L833.6 361.3L816.9 364.6L806.9 371.9L816.9 381.3L826.9 391.3L836.9 392.9L845.2 400.6L833.6 409.6L816.9 424.6L800.3 441.2L780.3 439.6L763.6 439.6L747.0 451.2L733.7 457.9L717.0 454.5L708.3 454.5L695.0 447.9L683.4 437.9L671.7 444.6L661.7 431.2L651.7 409.6L645.1 417.9L631.7 434.6L618.4 441.2L605.1 424.6L591.8 434.6L583.4 451.2L585.1 484.5L595.1 497.9L608.4 502.9L621.7 511.2L638.4 509.5L655.0 512.8L668.4 507.8L688.4 514.5L701.7 512.8L717.0 517.8L717.0 521.2L737.0 519.5L750.3 526.2L767.0 532.8L803.6 534.5L813.6 541.2L820.3 548.2L823.6 548.0L831.9 556.3L837.9 566.3L830.3 579.6L816.9 589.6L810.3 598.0L804.3 608.0L783.6 606.3L767.0 609.6L757.0 618.0L750.3 634.6L745.3 661.3L742.0 682.9L737.0 664.6L732.0 647.9L723.0 641.3L717.0 644.6L717.0 642.9L711.7 644.6L695.0 631.3L680.0 627.3L670.0 635.3L663.4 631.3L651.7 641.3L638.4 651.3L630.1 646.3L621.7 641.9L610.1 647.9L598.4 662.9L590.1 681.2L583.4 704.6L580.1 734.5L581.8 759.5L571.8 764.5L551.8 762.9L531.8 759.5L527.8 734.5L523.5 704.6L515.1 681.2L505.1 664.6L498.5 647.9L478.5 634.6L468.5 614.6L455.2 591.3L445.2 564.7L440.2 548.0L448.5 548.2L451.8 541.2L461.8 524.5L473.5 511.2L470.2 494.5L461.8 477.9L448.5 464.5L431.9 447.9L415.2 427.9L398.5 411.2Z" fill="#b4ceff" stroke="#b4ceff" stroke-width="0.8" stroke-linejoin="round"/>
<path d="M923.5 773.5L956.8 768.5L1016.8 766.2L1083.4 767.2L1116.7 768.5L1143.4 763.9L1163.4 751.2L1183.4 742.9L1212.0 730.5L1221.9 727.9L1255.2 729.5L1275.2 736.2L1285.2 737.9L1291.9 724.5L1295.2 734.5L1298.5 754.5L1301.9 774.5L1300.2 787.8L1293.5 797.8L1285.2 794.5L1271.9 787.8L1258.6 781.2L1238.6 777.8L1212.0 779.5L1183.4 781.2L1133.4 780.5L1083.4 779.5L1016.8 777.8L966.8 776.2Z" fill="#b4ceff" stroke="#b4ceff" stroke-width="0.8" stroke-linejoin="round"/>
<path d="M1280.9 427.9L1285.2 411.2L1290.2 399.6L1303.5 392.9L1311.9 398.6L1312.9 427.9L1311.2 454.5L1304.2 474.5L1296.9 454.5L1288.5 437.9Z" fill="#b4ceff" stroke="#b4ceff" stroke-width="0.8" stroke-linejoin="round"/>
<path d="M1330.2 389.6L1345.2 372.9L1358.5 374.6L1375.2 368.6L1388.5 366.3L1408.5 349.6L1421.8 343.0L1445.1 342.0L1466.8 344.0L1455.1 357.9L1451.1 372.3L1465.1 384.6L1480.1 399.6L1476.8 417.9L1470.1 431.2L1455.1 442.9L1428.5 454.5L1418.5 455.5L1413.5 468.5L1408.5 467.9L1401.8 454.5L1394.5 456.2L1390.1 484.5L1395.1 499.5L1409.5 488.5L1413.5 491.2L1418.5 504.5L1428.5 514.5L1438.4 531.2L1458.4 541.2L1465.1 548.2L1465.1 548.0L1471.8 554.7L1485.1 564.7L1494.4 594.6L1491.7 621.3L1481.8 647.9L1478.4 674.6L1473.4 702.9L1466.8 714.6L1461.8 711.2L1455.1 691.2L1446.8 674.6L1441.8 681.2L1436.8 704.6L1435.1 727.9L1436.8 754.5L1441.8 772.9L1428.5 781.2L1413.5 787.8L1408.5 801.2L1312.5 801.2L1312.5 787.8L1315.2 761.2L1317.9 721.2L1321.9 691.2L1325.2 647.9L1322.5 594.6L1315.2 588.0L1311.9 574.6L1308.5 548.0L1308.5 548.2L1313.5 511.2L1320.2 477.9L1325.2 444.6L1326.9 411.2Z" fill="#b4ceff" stroke="#b4ceff" stroke-width="0.8" stroke-linejoin="round"/>
<path d="M278.6 619.6L283.6 613.0L293.6 614.6L308.6 609.6L323.6 606.3L328.6 609.6L336.9 588.0L346.9 584.6L355.2 564.7L363.6 566.3L367.9 588.0L368.6 614.6L365.9 636.3L355.2 623.0L350.2 619.6L343.6 620.6L335.3 636.3L325.3 644.6L318.6 657.9L311.9 659.6L300.3 651.3L293.6 634.6L285.3 627.9Z" fill="#b4ceff" stroke="#b4ceff" stroke-width="0.8" stroke-linejoin="round"/>
<path d="M258.6 704.6L262.0 701.9L264.6 734.5L262.0 761.2L258.0 747.9Z" fill="#b4ceff" stroke="#b4ceff" stroke-width="0.8" stroke-linejoin="round"/>
<path d="M225.3 744.5L237.0 737.9L247.0 746.2L245.3 759.5L232.0 761.9L225.3 756.2Z" fill="#b4ceff" stroke="#b4ceff" stroke-width="0.8" stroke-linejoin="round"/>
<path d="M273.6 744.5L279.3 736.2L283.6 747.9L278.6 766.2L275.3 777.8L290.3 778.5L288.6 761.2L292.0 744.5L308.6 736.2L320.3 739.5L331.9 727.2L336.9 737.9L336.9 759.5L328.6 759.9L328.6 774.5L318.6 774.5L318.6 787.8L270.3 787.8L275.3 774.5Z" fill="#b4ceff" stroke="#b4ceff" stroke-width="0.8" stroke-linejoin="round"/>
<path d="M999.5 316.3L1004.1 317.3L1000.8 319.3Z" fill="#b4ceff" stroke="#b4ceff" stroke-width="0.8" stroke-linejoin="round"/>
<path d="M322.6 399.6L331.9 390.6L348.6 387.3L355.2 399.6L350.2 424.6L346.9 432.9L333.6 429.6L326.9 414.6Z" fill="#82a6ff" stroke="#82a6ff" stroke-width="0.8" stroke-linejoin="round"/>
<path d="M260.3 548.2L272.0 524.5L283.6 507.8L293.6 506.2L306.9 511.2L315.3 531.2L317.9 548.2L313.6 548.0L310.3 554.7L298.6 569.7L285.3 573.0L272.0 563.0L261.3 564.7L260.3 548.0Z" fill="#82a6ff" stroke="#82a6ff" stroke-width="0.8" stroke-linejoin="round"/>
<path d="M415.2 399.6L435.2 396.3L468.5 389.6L505.1 377.9L528.5 372.3L521.8 366.3L511.8 344.6L555.1 339.6L585.1 344.6L565.1 357.9L543.5 372.3L561.8 384.6L581.8 399.6L575.1 427.9L568.4 451.2L566.8 481.2L578.4 507.8L595.1 516.2L621.7 522.8L655.0 527.8L688.4 532.8L717.0 537.8L717.0 536.2L730.3 534.5L740.3 537.8L743.6 548.2L743.6 548.0L747.6 566.3L742.0 579.6L735.3 587.3L717.0 586.3L717.0 586.3L701.7 584.0L681.7 581.3L665.0 589.6L651.7 598.0L635.1 604.6L621.7 603.0L616.7 608.0L595.1 611.3L568.4 614.6L541.8 613.0L521.8 608.0L498.5 594.6L478.5 581.3L465.2 564.7L463.5 548.0L468.5 548.2L485.2 524.5L496.8 509.5L488.5 481.2L468.5 457.9L451.8 437.9L431.9 424.6Z" fill="#82a6ff" stroke="#82a6ff" stroke-width="0.8" stroke-linejoin="round"/>
<path d="M614.4 399.6L621.7 394.6L631.1 400.6L623.4 409.6L617.7 406.2Z" fill="#82a6ff" stroke="#82a6ff" stroke-width="0.8" stroke-linejoin="round"/>
<path d="M665.7 399.6L671.7 397.3L675.7 401.9L670.0 408.6Z" fill="#82a6ff" stroke="#82a6ff" stroke-width="0.8" stroke-linejoin="round"/>
<path d="M688.4 399.6L695.0 387.9L705.0 382.9L717.0 385.3L737.0 392.9L752.0 399.6L767.0 396.3L777.0 400.6L770.3 405.6L755.3 401.9L747.0 411.2L738.7 424.6L717.0 427.2L705.0 426.2L695.0 414.6Z" fill="#82a6ff" stroke="#82a6ff" stroke-width="0.8" stroke-linejoin="round"/>
<path d="M615.1 344.6L631.7 344.0L623.4 347.0Z" fill="#82a6ff" stroke="#82a6ff" stroke-width="0.8" stroke-linejoin="round"/>
<path d="M793.6 399.6L800.3 400.6L795.3 401.9Z" fill="#82a6ff" stroke="#82a6ff" stroke-width="0.8" stroke-linejoin="round"/>
<path d="M1297.9 427.9L1302.5 412.9L1305.2 427.9L1302.5 433.9Z" fill="#82a6ff" stroke="#82a6ff" stroke-width="0.8" stroke-linejoin="round"/>
<path d="M1328.5 399.6L1335.2 386.3L1345.2 380.6L1358.5 384.6L1371.8 379.6L1385.2 386.3L1395.1 394.6L1408.5 393.9L1415.8 399.6L1405.1 404.6L1395.1 406.2L1386.8 417.9L1380.2 437.9L1375.2 464.5L1373.5 494.5L1375.2 527.8L1375.2 548.2L1370.2 548.0L1365.2 556.3L1350.2 568.0L1340.2 581.3L1328.5 588.0L1318.5 581.3L1311.9 564.7L1308.5 548.0L1311.2 548.2L1315.2 517.8L1323.5 477.9L1327.9 437.9Z" fill="#82a6ff" stroke="#82a6ff" stroke-width="0.8" stroke-linejoin="round"/>
<path d="M1210.3 754.5L1211.9 746.2L1228.6 742.9L1255.2 744.5L1275.2 747.9L1283.6 757.9L1290.2 741.2L1294.5 754.5L1297.9 777.8L1294.5 791.2L1285.2 791.2L1275.2 781.2L1258.6 774.5L1238.6 771.2L1218.6 767.9Z" fill="#82a6ff" stroke="#82a6ff" stroke-width="0.8" stroke-linejoin="round"/>
<path d="M1364.5 646.3L1370.2 642.9L1375.8 649.6L1371.2 661.3L1365.8 667.3Z" fill="#82a6ff" stroke="#82a6ff" stroke-width="0.8" stroke-linejoin="round"/>
<path d="M1331.2 801.2L1333.5 793.8L1337.8 791.8L1342.5 796.2L1343.5 801.2Z" fill="#82a6ff" stroke="#82a6ff" stroke-width="0.8" stroke-linejoin="round"/>
<path d="M356.9 589.6L360.2 594.6L356.9 598.0Z" fill="#82a6ff" stroke="#82a6ff" stroke-width="0.8" stroke-linejoin="round"/>
<path d="M320.3 619.6L324.6 623.0L321.9 626.3Z" fill="#82a6ff" stroke="#82a6ff" stroke-width="0.8" stroke-linejoin="round"/>
<path d="M329.3 401.3L336.9 396.3L350.2 397.3L347.9 407.9L341.9 411.9L335.3 409.6Z" fill="#4478ff" stroke="#4478ff" stroke-width="0.8" stroke-linejoin="round"/>
<path d="M270.3 537.8L278.6 526.2L288.6 521.8L300.3 524.5L308.6 534.5L311.3 548.2L305.3 548.0L297.0 556.3L283.6 558.0L273.6 548.0Z" fill="#4478ff" stroke="#4478ff" stroke-width="0.8" stroke-linejoin="round"/>
<path d="M435.2 399.6L455.2 396.3L488.5 392.9L515.1 387.9L535.1 384.6L551.8 391.3L561.8 399.6L558.4 424.6L550.1 441.2L536.8 454.5L533.5 462.9L525.1 466.2L515.1 461.2L501.8 459.5L488.5 444.6L475.2 437.9L455.2 429.6L448.5 417.9Z" fill="#4478ff" stroke="#4478ff" stroke-width="0.8" stroke-linejoin="round"/>
<path d="M495.2 548.2L496.8 534.5L515.1 526.2L535.1 513.8L551.8 521.2L571.8 524.5L595.1 527.8L616.7 527.8L638.4 536.2L661.7 544.5L668.4 548.2L656.7 548.0L660.0 564.7L651.7 573.0L635.1 578.0L618.4 584.6L598.4 583.0L575.1 581.3L548.4 579.6L521.8 574.6L495.2 564.7L493.5 548.0Z" fill="#4478ff" stroke="#4478ff" stroke-width="0.8" stroke-linejoin="round"/>
<path d="M1334.5 399.6L1341.8 391.3L1358.5 394.6L1370.2 391.3L1380.2 399.6L1375.2 417.9L1368.5 437.9L1360.2 444.6L1356.8 457.9L1358.5 484.5L1361.8 511.2L1358.5 531.2L1353.5 548.2L1350.2 548.0L1346.8 554.7L1338.5 566.3L1326.9 574.6L1316.9 563.0L1311.9 548.0L1313.5 548.2L1318.5 517.8L1326.9 477.9L1331.9 437.9Z" fill="#4478ff" stroke="#4478ff" stroke-width="0.8" stroke-linejoin="round"/>
<path d="M1260.2 761.2L1265.2 755.2L1275.2 757.9L1281.9 771.2L1286.9 761.2L1291.9 751.2L1294.5 767.9L1293.5 784.5L1288.5 790.5L1283.6 781.2L1275.2 779.5L1263.6 774.5Z" fill="#4478ff" stroke="#4478ff" stroke-width="0.8" stroke-linejoin="round"/>
<path d="M1238.6 759.5L1244.6 757.9L1250.2 759.9L1244.6 761.9Z" fill="#4478ff" stroke="#4478ff" stroke-width="0.8" stroke-linejoin="round"/>
<path d="M499.1 400.6L515.1 399.6L535.1 397.9L542.5 399.6L536.8 409.6L525.1 410.6L515.1 405.2L501.8 407.2Z" fill="#1c50ff" stroke="#1c50ff" stroke-width="0.8" stroke-linejoin="round"/>
<path d="M608.4 548.2L610.1 539.5L616.7 539.5L615.7 548.2L615.1 548.0L616.7 568.0L605.1 564.7L610.1 548.0Z" fill="#1c50ff" stroke="#1c50ff" stroke-width="0.8" stroke-linejoin="round"/>
<path d="M278.6 537.8L287.0 534.5L297.0 535.2L301.9 538.5L295.3 541.8L283.6 541.8Z" fill="#1c50ff" stroke="#1c50ff" stroke-width="0.8" stroke-linejoin="round"/>
<path d="M1340.2 400.6L1349.2 399.6L1348.5 427.9L1346.8 451.2L1349.2 477.9L1352.5 507.8L1350.2 524.5L1341.8 541.2L1338.5 548.2L1340.2 548.0L1335.2 553.0L1327.9 558.7L1321.9 554.7L1315.9 548.0L1318.5 548.2L1321.9 524.5L1330.2 494.5L1336.9 451.2L1338.5 417.9Z" fill="#1c50ff" stroke="#1c50ff" stroke-width="0.8" stroke-linejoin="round"/>
<path d="M1285.2 777.8L1290.2 761.2L1293.5 757.9L1293.5 777.8L1290.2 787.8L1286.9 787.8Z" fill="#1c50ff" stroke="#1c50ff" stroke-width="0.8" stroke-linejoin="round"/>
<path d="M1330.2 507.8L1338.5 496.2L1342.5 501.2L1343.5 514.5L1338.5 524.5L1333.5 532.8L1328.5 541.2L1326.9 531.2L1331.9 521.2Z" fill="#0032de" stroke="#0032de" stroke-width="0.8" stroke-linejoin="round"/>
<path d="M565.1 372.3L583.4 361.3L600.1 353.9L615.1 362.9L625.1 367.3L638.4 357.9L653.4 352.0L668.4 359.6L681.7 356.3L691.7 367.9L694.4 372.3L681.7 387.9L668.4 384.6L653.4 396.3L641.7 386.3L626.7 376.3L615.1 386.3L601.7 391.9L583.4 384.6Z" fill="#d6eaff" stroke="#d6eaff" stroke-width="0.8" stroke-linejoin="round"/>
<path d="M724.3 372.3L733.7 361.3L748.6 346.3L757.0 357.9L770.3 368.6L783.6 364.6L800.3 370.6L806.9 371.9L801.9 373.9L783.6 377.3L770.3 373.9L750.3 380.6L737.0 376.3Z" fill="#d6eaff" stroke="#d6eaff" stroke-width="0.8" stroke-linejoin="round"/>
<path d="M1345.2 594.6L1350.2 586.3L1356.8 584.0L1365.8 589.6L1375.2 584.0L1384.5 581.3L1391.8 601.3L1396.8 621.3L1399.1 647.9L1397.8 674.6L1394.5 680.6L1390.1 674.6L1385.2 657.9L1381.2 621.3L1375.2 604.6L1365.8 600.6L1361.8 621.3L1356.8 627.9L1350.2 622.0Z" fill="#d6eaff" stroke="#d6eaff" stroke-width="0.8" stroke-linejoin="round"/>
<path d="M1378.5 801.2L1381.8 774.5L1385.2 746.2L1389.1 746.2L1391.1 774.5L1396.8 801.2Z" fill="#d6eaff" stroke="#d6eaff" stroke-width="0.8" stroke-linejoin="round"/>
<path d="M298.6 444.6L310.3 447.9L318.6 446.2L325.3 454.5L338.6 464.5L348.6 474.5L355.2 467.9L361.9 451.2L368.6 434.6L373.6 424.6L388.6 431.2L408.5 441.2L428.5 454.5L448.5 477.9L461.8 497.9L471.8 511.2L455.2 541.2L451.8 548.2L440.2 548.0L435.2 558.0L430.2 568.0L435.2 591.3L441.9 614.6L451.8 647.9L453.5 681.2L453.5 734.5L448.5 754.5L438.5 774.5L455.2 794.5L461.8 804.5L475.2 811.2L455.2 814.5L381.9 814.5L380.2 801.2L375.2 787.8L371.2 774.5L358.6 774.5L360.2 767.9L365.2 747.9L361.9 727.9L359.2 704.6L361.2 673.9L365.2 681.2L370.2 689.6L376.9 687.9L383.6 674.6L385.2 647.9L388.6 614.6L395.2 598.0L403.5 578.0L408.5 576.3L415.2 566.3L395.2 563.0L368.6 561.3L355.2 551.3L351.9 564.7L346.9 576.3L336.9 581.3L331.9 598.0L318.6 599.6L301.9 593.0L318.6 586.3L325.3 568.0L323.6 548.0L325.3 548.2L318.6 511.2L310.3 484.5L308.6 464.5L298.6 461.2L294.6 454.5Z" fill="#ffead8" stroke="#ffead8" stroke-width="0.8" stroke-linejoin="round"/>
<path d="M222.0 464.5L242.0 467.9L255.3 477.9L262.0 494.5L263.6 511.2L252.0 526.2L235.3 531.2L222.0 534.5Z" fill="#ffead8" stroke="#ffead8" stroke-width="0.8" stroke-linejoin="round"/>
<path d="M580.1 372.3L598.4 363.9L614.4 372.3L598.4 380.6Z" fill="#ffead8" stroke="#ffead8" stroke-width="0.8" stroke-linejoin="round"/>
<path d="M641.1 372.3L653.4 361.3L666.7 372.3L653.4 383.9Z" fill="#ffead8" stroke="#ffead8" stroke-width="0.8" stroke-linejoin="round"/>
<path d="M596.8 451.2L605.1 448.6L613.4 457.9L612.4 481.2L605.1 487.2L597.7 481.2Z" fill="#ffead8" stroke="#ffead8" stroke-width="0.8" stroke-linejoin="round"/>
<path d="M626.7 481.2L635.1 451.2L648.4 434.6L658.4 451.2L670.0 484.5L681.7 464.5L695.0 477.9L705.0 491.2L717.0 494.5L722.0 491.2L724.3 509.5L717.0 512.8L717.0 507.8L695.0 511.2L685.0 494.5L668.4 487.9L658.4 511.2L641.7 507.8L635.1 491.2Z" fill="#ffead8" stroke="#ffead8" stroke-width="0.8" stroke-linejoin="round"/>
<path d="M331.9 647.9L343.6 635.3L351.9 639.6L356.9 651.3L355.2 681.2L350.2 701.2L346.9 714.6L341.9 707.9L335.3 677.9Z" fill="#ffead8" stroke="#ffead8" stroke-width="0.8" stroke-linejoin="round"/>
<path d="M287.0 676.2L290.3 673.9L292.6 678.6L289.6 684.6Z" fill="#ffead8" stroke="#ffead8" stroke-width="0.8" stroke-linejoin="round"/>
<path d="M222.0 781.2L242.0 779.5L255.3 784.5L257.0 794.5L245.3 801.2L235.3 802.8L242.0 811.2L222.0 812.8Z" fill="#ffead8" stroke="#ffead8" stroke-width="0.8" stroke-linejoin="round"/>
<path d="M607.7 704.6L611.7 687.9L616.7 684.6L621.1 704.6L620.1 731.2L615.7 741.9L610.1 734.5Z" fill="#ffead8" stroke="#ffead8" stroke-width="0.8" stroke-linejoin="round"/>
<path d="M656.7 704.6L664.4 680.6L670.0 707.9L663.4 718.6Z" fill="#ffead8" stroke="#ffead8" stroke-width="0.8" stroke-linejoin="round"/>
<path d="M500.1 786.8L515.1 782.8L541.8 786.8L571.8 784.5L591.8 779.5L601.7 769.5L606.7 769.5L610.1 787.8L608.4 802.8L588.4 804.5L591.8 799.5L575.1 792.8L541.8 788.5L515.1 790.2Z" fill="#ffead8" stroke="#ffead8" stroke-width="0.8" stroke-linejoin="round"/>
<path d="M1495.1 548.0L1511.7 558.0L1535.1 569.7L1551.7 584.6L1565.0 579.6L1578.4 564.7L1591.7 548.0Z" fill="#ffead8" stroke="#ffead8" stroke-width="0.8" stroke-linejoin="round"/>
<path d="M1546.7 647.9L1555.0 632.9L1563.4 628.6L1573.4 637.9L1581.7 661.3L1584.4 697.9L1583.4 747.9L1581.7 771.2L1598.3 776.2L1601.0 777.8L1601.0 804.5L1571.7 802.8L1528.4 811.2L1511.7 814.5L1445.1 814.5L1436.8 787.8L1448.4 781.2L1478.4 782.8L1511.7 779.5L1535.1 772.9L1520.1 761.2L1511.7 744.5L1516.7 727.9L1528.4 717.9L1545.0 701.2L1551.7 677.9L1548.4 661.3Z" fill="#ffead8" stroke="#ffead8" stroke-width="0.8" stroke-linejoin="round"/>
<path d="M1201.9 344.6L1221.9 342.0L1243.6 344.6L1221.9 347.3Z" fill="#ffead8" stroke="#ffead8" stroke-width="0.8" stroke-linejoin="round"/>
<path d="M950.2 647.9L955.2 642.9L962.8 644.6L965.2 649.6L957.5 673.9L952.8 674.6L951.2 661.3Z" fill="#ffead8" stroke="#ffead8" stroke-width="0.8" stroke-linejoin="round"/>
<path d="M1440.1 811.2L1445.1 801.2L1478.4 792.8L1511.7 796.2L1526.7 801.8L1511.7 809.5L1478.4 812.8Z" fill="#d6eaff" stroke="#d6eaff" stroke-width="0.8" stroke-linejoin="round"/>
<path d="M381.9 773.8L385.9 767.2L390.2 773.8L385.9 779.5Z" fill="#d6eaff" stroke="#d6eaff" stroke-width="0.8" stroke-linejoin="round"/>
<path d="M644.4 479.5L650.0 462.9L656.7 477.9L655.0 487.9L650.0 489.5Z" fill="#ffccb4" stroke="#ffccb4" stroke-width="0.8" stroke-linejoin="round"/>
<path d="M222.0 474.5L238.7 484.5L252.0 494.5L257.0 507.8L245.3 517.8L222.0 524.5Z" fill="#ffccb4" stroke="#ffccb4" stroke-width="0.8" stroke-linejoin="round"/>
<path d="M350.2 507.8L355.2 491.2L361.9 474.5L368.6 462.9L378.6 452.9L391.9 449.6L408.5 454.5L425.2 471.2L438.5 484.5L451.8 507.8L445.2 521.2L428.5 534.5L401.9 541.2L371.9 536.2L358.6 524.5Z" fill="#ffccb4" stroke="#ffccb4" stroke-width="0.8" stroke-linejoin="round"/>
<path d="M378.6 509.5L391.9 494.5L405.2 486.2L418.5 494.5L435.2 509.5L425.2 515.2L408.5 521.2L391.9 516.2Z" fill="#ffa880" stroke="#ffa880" stroke-width="0.8" stroke-linejoin="round"/>
<path d="M330.3 482.9L336.9 479.5L341.9 494.5L346.9 507.8L351.2 511.2L348.6 548.2L348.6 548.0L345.3 554.7L336.9 559.7L328.6 574.6L323.6 564.7L330.3 548.0L333.6 548.2L330.3 511.2Z" fill="#ffccb4" stroke="#ffccb4" stroke-width="0.8" stroke-linejoin="round"/>
<path d="M1566.7 787.2L1576.7 785.2L1587.7 787.2L1576.7 789.8Z" fill="#ffccb4" stroke="#ffccb4" stroke-width="0.8" stroke-linejoin="round"/>
</g>
<rect x="260" y="801" width="120.0" height="15.0" fill="#000"/><rect x="270" y="788" width="105.0" height="14.0" fill="#000"/><rect x="318.6" y="774" width="52.4" height="15.0" fill="#000"/><rect x="328.6" y="759.5" width="28.4" height="15.5" fill="#000"/><rect x="607" y="801" width="9.5" height="15.0" fill="#000"/><rect x="1303.5" y="801" width="105.0" height="15.0" fill="#000"/><rect x="1308.5" y="787.5" width="9.5" height="14.5" fill="#000"/>
<rect x="222.5" y="278.0" width="1378.5" height="537.0" fill="none" stroke="#000" stroke-width="4.4"/>
<text transform="translate(165.5 291.2) scale(0.97 1)" font-size="36" text-anchor="end" font-weight="bold">30</text>
<text transform="translate(165.5 302.2) scale(0.97 1)" font-size="36" text-anchor="end" font-weight="bold">50</text>
<text transform="translate(165.5 313.3) scale(0.97 1)" font-size="36" text-anchor="end" font-weight="bold">70</text>
<text transform="translate(165.5 329.9) scale(0.97 1)" font-size="36" text-anchor="end" font-weight="bold">100</text>
<text transform="translate(165.5 357.6) scale(0.97 1)" font-size="36" text-anchor="end" font-weight="bold">150</text>
<text transform="translate(165.5 385.2) scale(0.97 1)" font-size="36" text-anchor="end" font-weight="bold">200</text>
<text transform="translate(165.5 412.9) scale(0.97 1)" font-size="36" text-anchor="end" font-weight="bold">250</text>
<text transform="translate(165.5 440.6) scale(0.97 1)" font-size="36" text-anchor="end" font-weight="bold">300</text>
<text transform="translate(165.5 495.9) scale(0.97 1)" font-size="36" text-anchor="end" font-weight="bold">400</text>
<text transform="translate(165.5 551.2) scale(0.97 1)" font-size="36" text-anchor="end" font-weight="bold">500</text>
<text transform="translate(165.5 661.9) scale(0.97 1)" font-size="36" text-anchor="end" font-weight="bold">700</text>
<text transform="translate(165.5 744.9) scale(0.97 1)" font-size="36" text-anchor="end" font-weight="bold">850</text>
<text transform="translate(165.5 827.9) scale(0.97 1)" font-size="36" text-anchor="end" font-weight="bold">1000</text>
<text transform="translate(1658.0 304.9) scale(0.97 1)" font-size="36" text-anchor="start" font-weight="bold">20</text>
<text transform="translate(1658.0 331.2) scale(0.97 1)" font-size="36" text-anchor="start" font-weight="bold">16</text>
<text transform="translate(1658.0 381.7) scale(0.97 1)" font-size="36" text-anchor="start" font-weight="bold">12</text>
<text transform="translate(1658.0 471.8) scale(0.97 1)" font-size="36" text-anchor="start" font-weight="bold">8</text>
<text transform="translate(1658.0 615.7) scale(0.97 1)" font-size="36" text-anchor="start" font-weight="bold">4</text>
<g stroke="#000" stroke-linecap="round" fill="none"><path d="M222.5 278.0 V247 M222.5 815.0 V845.5" stroke-width="4.4"/><path d="M337.8 278.0 V261 M337.8 815.0 V831" stroke-width="2.4"/><path d="M453.0 278.0 V247 M453.0 815.0 V845.5" stroke-width="4.4"/><path d="M568.3 278.0 V261 M568.3 815.0 V831" stroke-width="2.4"/><path d="M683.5 278.0 V247 M683.5 815.0 V845.5" stroke-width="4.4"/><path d="M798.8 278.0 V261 M798.8 815.0 V831" stroke-width="2.4"/><path d="M914.0 278.0 V247 M914.0 815.0 V845.5" stroke-width="4.4"/><path d="M1029.3 278.0 V261 M1029.3 815.0 V831" stroke-width="2.4"/><path d="M1144.5 278.0 V247 M1144.5 815.0 V845.5" stroke-width="4.4"/><path d="M1259.8 278.0 V261 M1259.8 815.0 V831" stroke-width="2.4"/><path d="M1375.0 278.0 V247 M1375.0 815.0 V845.5" stroke-width="4.4"/><path d="M1490.3 278.0 V261 M1490.3 815.0 V831" stroke-width="2.4"/><path d="M190.4 278.0 H222.5" stroke-width="4.4"/><path d="M190.4 289.0 H222.5" stroke-width="4.4"/><path d="M190.4 300.1 H222.5" stroke-width="4.4"/><path d="M190.4 316.7 H222.5" stroke-width="4.4"/><path d="M190.4 344.4 H222.5" stroke-width="4.4"/><path d="M190.4 372.0 H222.5" stroke-width="4.4"/><path d="M190.4 399.7 H222.5" stroke-width="4.4"/><path d="M190.4 427.4 H222.5" stroke-width="4.4"/><path d="M190.4 482.7 H222.5" stroke-width="4.4"/><path d="M190.4 538.0 H222.5" stroke-width="4.4"/><path d="M190.4 648.7 H222.5" stroke-width="4.4"/><path d="M190.4 731.7 H222.5" stroke-width="4.4"/><path d="M190.4 814.7 H222.5" stroke-width="4.4"/><path d="M1601.0 291.7 H1632.6" stroke-width="4.4"/><path d="M1601.0 318.0 H1632.6" stroke-width="4.4"/><path d="M1601.0 368.5 H1632.6" stroke-width="4.4"/><path d="M1601.0 458.6 H1632.6" stroke-width="4.4"/><path d="M1601.0 602.5 H1632.6" stroke-width="4.4"/></g>
<text transform="translate(222.5 898.3) scale(0.975 1)" font-size="36" text-anchor="middle" font-weight="bold">0</text>
<text transform="translate(453.0 898.3) scale(0.975 1)" font-size="36" text-anchor="middle" font-weight="bold">60E</text>
<text transform="translate(683.5 898.3) scale(0.975 1)" font-size="36" text-anchor="middle" font-weight="bold">120E</text>
<text transform="translate(914.0 898.3) scale(0.975 1)" font-size="36" text-anchor="middle" font-weight="bold">180</text>
<text transform="translate(1144.5 898.3) scale(0.975 1)" font-size="36" text-anchor="middle" font-weight="bold">120W</text>
<text transform="translate(1375.0 898.3) scale(0.975 1)" font-size="36" text-anchor="middle" font-weight="bold">60W</text>
<text transform="translate(44.7 547.0) rotate(-90) scale(0.978 1)" font-size="56" text-anchor="middle" font-weight="bold">Pressure (mb)</text>
<text transform="translate(1777.0 543.0) rotate(-90) scale(0.94 1)" font-size="57" text-anchor="middle" font-weight="bold">Height (km)</text>
<text transform="translate(911.5 930.0) scale(0.955 1)" font-size="33" text-anchor="middle" font-weight="bold" xml:space="preserve">MIN =  -0.15  MAX =   0.14</text>
<rect x="230.00" y="965" width="85.22" height="21.5" fill="#00008a" stroke="#000" stroke-width="2.2"/>
<rect x="315.22" y="965" width="85.22" height="21.5" fill="#001cb4" stroke="#000" stroke-width="2.2"/>
<rect x="400.44" y="965" width="85.22" height="21.5" fill="#0032de" stroke="#000" stroke-width="2.2"/>
<rect x="485.66" y="965" width="85.22" height="21.5" fill="#1c50ff" stroke="#000" stroke-width="2.2"/>
<rect x="570.88" y="965" width="85.22" height="21.5" fill="#4478ff" stroke="#000" stroke-width="2.2"/>
<rect x="656.09" y="965" width="85.22" height="21.5" fill="#82a6ff" stroke="#000" stroke-width="2.2"/>
<rect x="741.31" y="965" width="85.22" height="21.5" fill="#b4ceff" stroke="#000" stroke-width="2.2"/>
<rect x="826.53" y="965" width="85.22" height="21.5" fill="#d6eaff" stroke="#000" stroke-width="2.2"/>
<rect x="911.75" y="965" width="85.22" height="21.5" fill="#ffead8" stroke="#000" stroke-width="2.2"/>
<rect x="996.97" y="965" width="85.22" height="21.5" fill="#ffccb4" stroke="#000" stroke-width="2.2"/>
<rect x="1082.19" y="965" width="85.22" height="21.5" fill="#ffa880" stroke="#000" stroke-width="2.2"/>
<rect x="1167.41" y="965" width="85.22" height="21.5" fill="#fd7b46" stroke="#000" stroke-width="2.2"/>
<rect x="1252.62" y="965" width="85.22" height="21.5" fill="#ff541c" stroke="#000" stroke-width="2.2"/>
<rect x="1337.84" y="965" width="85.22" height="21.5" fill="#e23200" stroke="#000" stroke-width="2.2"/>
<rect x="1423.06" y="965" width="85.22" height="21.5" fill="#b82804" stroke="#000" stroke-width="2.2"/>
<rect x="1508.28" y="965" width="85.22" height="21.5" fill="#8c0000" stroke="#000" stroke-width="2.2"/>
<text transform="translate(315.2 1023.5)" font-size="32" text-anchor="middle" font-weight="bold">-0.2</text>
<text transform="translate(400.4 1023.5)" font-size="32" text-anchor="middle" font-weight="bold">-0.17</text>
<text transform="translate(485.7 1023.5)" font-size="32" text-anchor="middle" font-weight="bold">-0.14</text>
<text transform="translate(570.9 1023.5)" font-size="32" text-anchor="middle" font-weight="bold">-0.11</text>
<text transform="translate(656.1 1023.5)" font-size="32" text-anchor="middle" font-weight="bold">-0.08</text>
<text transform="translate(741.3 1023.5)" font-size="32" text-anchor="middle" font-weight="bold">-0.05</text>
<text transform="translate(826.5 1023.5)" font-size="32" text-anchor="middle" font-weight="bold">-0.02</text>
<text transform="translate(911.8 1023.5)" font-size="32" text-anchor="middle" font-weight="bold">0</text>
<text transform="translate(997.0 1023.5)" font-size="32" text-anchor="middle" font-weight="bold">0.02</text>
<text transform="translate(1082.2 1023.5)" font-size="32" text-anchor="middle" font-weight="bold">0.05</text>
<text transform="translate(1167.4 1023.5)" font-size="32" text-anchor="middle" font-weight="bold">0.08</text>
<text transform="translate(1252.6 1023.5)" font-size="32" text-anchor="middle" font-weight="bold">0.11</text>
<text transform="translate(1337.8 1023.5)" font-size="32" text-anchor="middle" font-weight="bold">0.14</text>
<text transform="translate(1423.1 1023.5)" font-size="32" text-anchor="middle" font-weight="bold">0.17</text>
<text transform="translate(1508.3 1023.5)" font-size="32" text-anchor="middle" font-weight="bold">0.2</text>
</g>
</svg></body></html>
